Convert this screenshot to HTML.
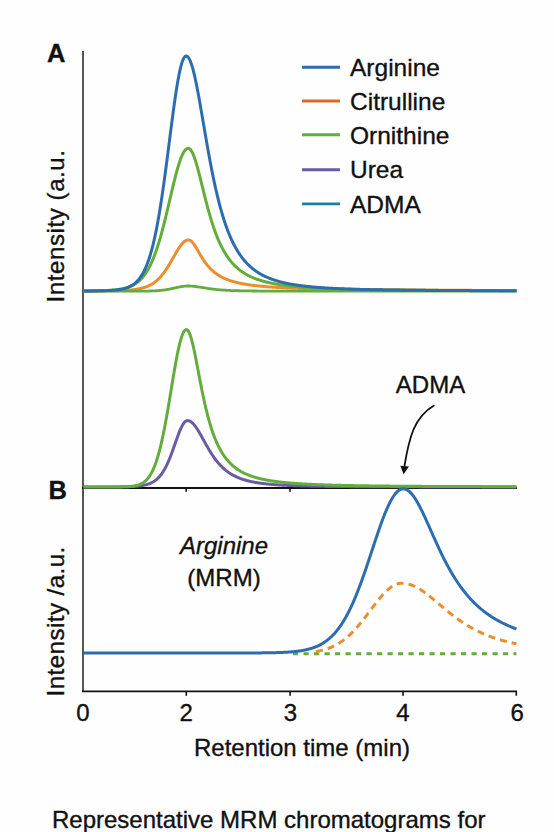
<!DOCTYPE html>
<html><head><meta charset="utf-8"><style>
html,body{margin:0;padding:0;background:#fefefe;}
svg{display:block;}
text{font-family:"Liberation Sans",sans-serif;fill:#111;stroke:#111;stroke-width:0.35px;}
.leg{font-size:24.5px;}
</style></head><body>
<svg width="554" height="832" viewBox="0 0 554 832">
<rect width="554" height="832" fill="#fefefe"/>
<g fill="none" stroke-linejoin="round" stroke-linecap="butt">
<!-- axes -->
<line x1="83" y1="51" x2="83" y2="692" stroke="#555555" stroke-width="2"/>
<line x1="82" y1="488" x2="517" y2="488" stroke="#111111" stroke-width="1.8"/>
<line x1="82" y1="691.3" x2="517" y2="691.3" stroke="#111111" stroke-width="1.8"/>
<path d="M186.2,488 V491.8 M290,488 V491.8" stroke="#111111" stroke-width="1.6"/>
<path d="M186.3,691.3 V695.8 M290.1,691.3 V695.8 M403,691.3 V695.8 M516.3,691.3 V695.8" stroke="#111111" stroke-width="1.6"/>
<!-- panel A -->
<path d="M83.50,290.97 L84.00,290.97 L84.50,290.97 L85.00,290.97 L85.50,290.97 L86.00,290.97 L86.50,290.97 L87.00,290.97 L87.50,290.96 L88.00,290.96 L88.50,290.96 L89.00,290.96 L89.50,290.96 L90.00,290.96 L90.50,290.96 L91.00,290.95 L91.50,290.95 L92.00,290.95 L92.50,290.95 L93.00,290.95 L93.50,290.95 L94.00,290.94 L94.50,290.94 L95.00,290.94 L95.50,290.94 L96.00,290.94 L96.50,290.93 L97.00,290.93 L97.50,290.93 L98.00,290.93 L98.50,290.92 L99.00,290.92 L99.50,290.92 L100.00,290.91 L100.50,290.91 L101.00,290.91 L101.50,290.90 L102.00,290.90 L102.50,290.90 L103.00,290.89 L103.50,290.89 L104.00,290.88 L104.50,290.88 L105.00,290.87 L105.50,290.87 L106.00,290.86 L106.50,290.86 L107.00,290.85 L107.50,290.85 L108.00,290.84 L108.50,290.83 L109.00,290.83 L109.50,290.82 L110.00,290.81 L110.50,290.81 L111.00,290.80 L111.50,290.79 L112.00,290.78 L112.50,290.77 L113.00,290.76 L113.50,290.75 L114.00,290.74 L114.50,290.73 L115.00,290.72 L115.50,290.71 L116.00,290.70 L116.50,290.69 L117.00,290.67 L117.50,290.66 L118.00,290.65 L118.50,290.63 L119.00,290.62 L119.50,290.60 L120.00,290.58 L120.50,290.56 L121.00,290.55 L121.50,290.53 L122.00,290.51 L122.50,290.48 L123.00,290.46 L123.50,290.44 L124.00,290.41 L124.50,290.39 L125.00,290.36 L125.50,290.33 L126.00,290.30 L126.50,290.27 L127.00,290.24 L127.50,290.21 L128.00,290.17 L128.50,290.14 L129.00,290.10 L129.50,290.06 L130.00,290.02 L130.50,289.97 L131.00,289.93 L131.50,289.88 L132.00,289.83 L132.50,289.77 L133.00,289.72 L133.50,289.66 L134.00,289.60 L134.50,289.54 L135.00,289.47 L135.50,289.40 L136.00,289.33 L136.50,289.25 L137.00,289.17 L137.50,289.09 L138.00,289.00 L138.50,288.91 L139.00,288.82 L139.50,288.72 L140.00,288.61 L140.50,288.50 L141.00,288.39 L141.50,288.27 L142.00,288.14 L142.50,288.01 L143.00,287.87 L143.50,287.73 L144.00,287.58 L144.50,287.42 L145.00,287.26 L145.50,287.09 L146.00,286.91 L146.50,286.73 L147.00,286.53 L147.50,286.33 L148.00,286.12 L148.50,285.89 L149.00,285.66 L149.50,285.42 L150.00,285.17 L150.50,284.91 L151.00,284.64 L151.50,284.35 L152.00,284.06 L152.50,283.75 L153.00,283.43 L153.50,283.10 L154.00,282.75 L154.50,282.39 L155.00,282.02 L155.50,281.63 L156.00,281.22 L156.50,280.81 L157.00,280.37 L157.50,279.92 L158.00,279.46 L158.50,278.98 L159.00,278.48 L159.50,277.96 L160.00,277.43 L160.50,276.88 L161.00,276.31 L161.50,275.73 L162.00,275.13 L162.50,274.51 L163.00,273.87 L163.50,273.22 L164.00,272.55 L164.50,271.86 L165.00,271.16 L165.50,270.43 L166.00,269.70 L166.50,268.94 L167.00,268.17 L167.50,267.39 L168.00,266.59 L168.50,265.78 L169.00,264.96 L169.50,264.12 L170.00,263.28 L170.50,262.42 L171.00,261.56 L171.50,260.69 L172.00,259.82 L172.50,258.94 L173.00,258.06 L173.50,257.17 L174.00,256.29 L174.50,255.41 L175.00,254.54 L175.50,253.67 L176.00,252.81 L176.50,251.97 L177.00,251.13 L177.50,250.31 L178.00,249.50 L178.50,248.72 L179.00,247.96 L179.50,247.21 L180.00,246.50 L180.50,245.81 L181.00,245.15 L181.50,244.53 L182.00,243.93 L182.50,243.38 L183.00,242.86 L183.50,242.38 L184.00,241.94 L184.50,241.54 L185.00,241.18 L185.50,240.87 L186.00,240.61 L186.50,240.39 L187.00,240.22 L187.50,240.10 L188.00,240.02 L188.50,240.00 L189.00,240.04 L189.50,240.16 L190.00,240.35 L190.50,240.63 L191.00,240.97 L191.50,241.38 L192.00,241.86 L192.50,242.40 L193.00,243.00 L193.50,243.65 L194.00,244.34 L194.50,245.07 L195.00,245.83 L195.50,246.63 L196.00,247.45 L196.50,248.28 L197.00,249.13 L197.50,249.99 L198.00,250.86 L198.50,251.73 L199.00,252.59 L199.50,253.46 L200.00,254.31 L200.50,255.16 L201.00,256.00 L201.50,256.82 L202.00,257.63 L202.50,258.43 L203.00,259.21 L203.50,259.97 L204.00,260.72 L204.50,261.44 L205.00,262.15 L205.50,262.84 L206.00,263.52 L206.50,264.17 L207.00,264.81 L207.50,265.43 L208.00,266.03 L208.50,266.61 L209.00,267.18 L209.50,267.73 L210.00,268.26 L210.50,268.78 L211.00,269.28 L211.50,269.77 L212.00,270.24 L212.50,270.70 L213.00,271.14 L213.50,271.58 L214.00,271.99 L214.50,272.40 L215.00,272.79 L215.50,273.17 L216.00,273.54 L216.50,273.90 L217.00,274.25 L217.50,274.59 L218.00,274.92 L218.50,275.23 L219.00,275.54 L219.50,275.84 L220.00,276.13 L220.50,276.42 L221.00,276.69 L221.50,276.96 L222.00,277.22 L222.50,277.47 L223.00,277.72 L223.50,277.96 L224.00,278.19 L224.50,278.42 L225.00,278.64 L225.50,278.85 L226.00,279.06 L226.50,279.26 L227.00,279.46 L227.50,279.65 L228.00,279.84 L228.50,280.02 L229.00,280.20 L229.50,280.38 L230.00,280.55 L230.50,280.71 L231.00,280.87 L231.50,281.03 L232.00,281.18 L232.50,281.33 L233.00,281.48 L233.50,281.62 L234.00,281.76 L234.50,281.90 L235.00,282.03 L235.50,282.16 L236.00,282.29 L236.50,282.41 L237.00,282.53 L237.50,282.65 L238.00,282.77 L238.50,282.88 L239.00,282.99 L239.50,283.10 L240.00,283.21 L240.50,283.31 L241.00,283.41 L241.50,283.51 L242.00,283.61 L242.50,283.70 L243.00,283.80 L243.50,283.89 L244.00,283.98 L244.50,284.07 L245.00,284.15 L245.50,284.24 L246.00,284.32 L246.50,284.40 L247.00,284.48 L247.50,284.56 L248.00,284.64 L248.50,284.71 L249.00,284.79 L249.50,284.86 L250.00,284.93 L250.50,285.00 L251.00,285.07 L251.50,285.13 L252.00,285.20 L252.50,285.26 L253.00,285.33 L253.50,285.39 L254.00,285.45 L254.50,285.51 L255.00,285.57 L255.50,285.63 L256.00,285.69 L256.50,285.74 L257.00,285.80 L257.50,285.85 L258.00,285.91 L258.50,285.96 L259.00,286.01 L259.50,286.06 L260.00,286.11 L260.50,286.16 L261.00,286.21 L261.50,286.26 L262.00,286.30 L262.50,286.35 L263.00,286.39 L263.50,286.44 L264.00,286.48 L264.50,286.53 L265.00,286.57 L265.50,286.61 L266.00,286.65 L266.50,286.69 L267.00,286.73 L267.50,286.77 L268.00,286.81 L268.50,286.85 L269.00,286.89 L269.50,286.92 L270.00,286.96 L270.50,286.99 L271.00,287.03 L271.50,287.07 L272.00,287.10 L272.50,287.13 L273.00,287.17 L273.50,287.20 L274.00,287.23 L274.50,287.26 L275.00,287.30 L275.50,287.33 L276.00,287.36 L276.50,287.39 L277.00,287.42 L277.50,287.45 L278.00,287.48 L278.50,287.51 L279.00,287.53 L279.50,287.56 L280.00,287.59 L280.50,287.62 L281.00,287.64 L281.50,287.67 L282.00,287.70 L282.50,287.72 L283.00,287.75 L283.50,287.77 L284.00,287.80 L284.50,287.82 L285.00,287.85 L285.50,287.87 L286.00,287.90 L286.50,287.92 L287.00,287.94 L287.50,287.96 L288.00,287.99 L288.50,288.01 L289.00,288.03 L289.50,288.05 L290.00,288.07 L290.50,288.10 L291.00,288.12 L291.50,288.14 L292.00,288.16 L292.50,288.18 L293.00,288.20 L293.50,288.22 L294.00,288.24 L294.50,288.26 L295.00,288.28 L295.50,288.29 L296.00,288.31 L296.50,288.33 L297.00,288.35 L297.50,288.37 L298.00,288.39 L298.50,288.40 L299.00,288.42 L299.50,288.44 L300.00,288.46 L300.50,288.47 L301.00,288.49 L301.50,288.51 L302.00,288.52 L302.50,288.54 L303.00,288.55 L303.50,288.57 L304.00,288.59 L304.50,288.60 L305.00,288.62 L305.50,288.63 L306.00,288.65 L306.50,288.66 L307.00,288.68 L307.50,288.69 L308.00,288.70 L308.50,288.72 L309.00,288.73 L309.50,288.75 L310.00,288.76 L310.50,288.77 L311.00,288.79 L311.50,288.80 L312.00,288.81 L312.50,288.83 L313.00,288.84 L313.50,288.85 L314.00,288.87 L314.50,288.88 L315.00,288.89 L315.50,288.90 L316.00,288.92 L316.50,288.93 L317.00,288.94 L317.50,288.95 L318.00,288.96 L318.50,288.98 L319.00,288.99 L319.50,289.00 L320.00,289.01 L320.50,289.02 L321.00,289.03 L321.50,289.04 L322.00,289.05 L322.50,289.07 L323.00,289.08 L323.50,289.09 L324.00,289.10 L324.50,289.11 L325.00,289.12 L325.50,289.13 L326.00,289.14 L326.50,289.15 L327.00,289.16 L327.50,289.17 L328.00,289.18 L328.50,289.19 L329.00,289.20 L329.50,289.21 L330.00,289.22 L330.50,289.23 L331.00,289.24 L331.50,289.25 L332.00,289.25 L332.50,289.26 L333.00,289.27 L333.50,289.28 L334.00,289.29 L334.50,289.30 L335.00,289.31 L335.50,289.32 L336.00,289.32 L336.50,289.33 L337.00,289.34 L337.50,289.35 L338.00,289.36 L338.50,289.37 L339.00,289.37 L339.50,289.38 L340.00,289.39 L340.50,289.40 L341.00,289.41 L341.50,289.41 L342.00,289.42 L342.50,289.43 L343.00,289.44 L343.50,289.44 L344.00,289.45 L344.50,289.46 L345.00,289.47 L345.50,289.47 L346.00,289.48 L346.50,289.49 L347.00,289.50 L347.50,289.50 L348.00,289.51 L348.50,289.52 L349.00,289.52 L349.50,289.53 L350.00,289.54 L350.50,289.54 L351.00,289.55 L351.50,289.56 L352.00,289.56 L352.50,289.57 L353.00,289.58 L353.50,289.58 L354.00,289.59 L354.50,289.60 L355.00,289.60 L355.50,289.61 L356.00,289.62 L356.50,289.62 L357.00,289.63 L357.50,289.63 L358.00,289.64 L358.50,289.65 L359.00,289.65 L359.50,289.66 L360.00,289.66 L360.50,289.67 L361.00,289.68 L361.50,289.68 L362.00,289.69 L362.50,289.69 L363.00,289.70 L363.50,289.70 L364.00,289.71 L364.50,289.72 L365.00,289.72 L365.50,289.73 L366.00,289.73 L366.50,289.74 L367.00,289.74 L367.50,289.75 L368.00,289.75 L368.50,289.76 L369.00,289.76 L369.50,289.77 L370.00,289.77 L370.50,289.78 L371.00,289.78 L371.50,289.79 L372.00,289.79 L372.50,289.80 L373.00,289.80 L373.50,289.81 L374.00,289.81 L374.50,289.82 L375.00,289.82 L375.50,289.83 L376.00,289.83 L376.50,289.84 L377.00,289.84 L377.50,289.85 L378.00,289.85 L378.50,289.85 L379.00,289.86 L379.50,289.86 L380.00,289.87 L380.50,289.87 L381.00,289.88 L381.50,289.88 L382.00,289.89 L382.50,289.89 L383.00,289.89 L383.50,289.90 L384.00,289.90 L384.50,289.91 L385.00,289.91 L385.50,289.92 L386.00,289.92 L386.50,289.92 L387.00,289.93 L387.50,289.93 L388.00,289.94 L388.50,289.94 L389.00,289.94 L389.50,289.95 L390.00,289.95 L390.50,289.96 L391.00,289.96 L391.50,289.96 L392.00,289.97 L392.50,289.97 L393.00,289.97 L393.50,289.98 L394.00,289.98 L394.50,289.99 L395.00,289.99 L395.50,289.99 L396.00,290.00 L396.50,290.00 L397.00,290.00 L397.50,290.01 L398.00,290.01 L398.50,290.02 L399.00,290.02 L399.50,290.02 L400.00,290.03 L400.50,290.03 L401.00,290.03 L401.50,290.04 L402.00,290.04 L402.50,290.04 L403.00,290.05 L403.50,290.05 L404.00,290.05 L404.50,290.06 L405.00,290.06 L405.50,290.06 L406.00,290.07 L406.50,290.07 L407.00,290.07 L407.50,290.08 L408.00,290.08 L408.50,290.08 L409.00,290.09 L409.50,290.09 L410.00,290.09 L410.50,290.09 L411.00,290.10 L411.50,290.10 L412.00,290.10 L412.50,290.11 L413.00,290.11 L413.50,290.11 L414.00,290.12 L414.50,290.12 L415.00,290.12 L415.50,290.12 L416.00,290.13 L416.50,290.13 L417.00,290.13 L417.50,290.14 L418.00,290.14 L418.50,290.14 L419.00,290.14 L419.50,290.15 L420.00,290.15 L420.50,290.15 L421.00,290.16 L421.50,290.16 L422.00,290.16 L422.50,290.16 L423.00,290.17 L423.50,290.17 L424.00,290.17 L424.50,290.17 L425.00,290.18 L425.50,290.18 L426.00,290.18 L426.50,290.18 L427.00,290.19 L427.50,290.19 L428.00,290.19 L428.50,290.19 L429.00,290.20 L429.50,290.20 L430.00,290.20 L430.50,290.20 L431.00,290.21 L431.50,290.21 L432.00,290.21 L432.50,290.21 L433.00,290.22 L433.50,290.22 L434.00,290.22 L434.50,290.22 L435.00,290.23 L435.50,290.23 L436.00,290.23 L436.50,290.23 L437.00,290.24 L437.50,290.24 L438.00,290.24 L438.50,290.24 L439.00,290.25 L439.50,290.25 L440.00,290.25 L440.50,290.25 L441.00,290.25 L441.50,290.26 L442.00,290.26 L442.50,290.26 L443.00,290.26 L443.50,290.27 L444.00,290.27 L444.50,290.27 L445.00,290.27 L445.50,290.27 L446.00,290.28 L446.50,290.28 L447.00,290.28 L447.50,290.28 L448.00,290.28 L448.50,290.29 L449.00,290.29 L449.50,290.29 L450.00,290.29 L450.50,290.29 L451.00,290.30 L451.50,290.30 L452.00,290.30 L452.50,290.30 L453.00,290.30 L453.50,290.31 L454.00,290.31 L454.50,290.31 L455.00,290.31 L455.50,290.31 L456.00,290.32 L456.50,290.32 L457.00,290.32 L457.50,290.32 L458.00,290.32 L458.50,290.33 L459.00,290.33 L459.50,290.33 L460.00,290.33 L460.50,290.33 L461.00,290.34 L461.50,290.34 L462.00,290.34 L462.50,290.34 L463.00,290.34 L463.50,290.34 L464.00,290.35 L464.50,290.35 L465.00,290.35 L465.50,290.35 L466.00,290.35 L466.50,290.36 L467.00,290.36 L467.50,290.36 L468.00,290.36 L468.50,290.36 L469.00,290.36 L469.50,290.37 L470.00,290.37 L470.50,290.37 L471.00,290.37 L471.50,290.37 L472.00,290.37 L472.50,290.38 L473.00,290.38 L473.50,290.38 L474.00,290.38 L474.50,290.38 L475.00,290.38 L475.50,290.39 L476.00,290.39 L476.50,290.39 L477.00,290.39 L477.50,290.39 L478.00,290.39 L478.50,290.40 L479.00,290.40 L479.50,290.40 L480.00,290.40 L480.50,290.40 L481.00,290.40 L481.50,290.40 L482.00,290.41 L482.50,290.41 L483.00,290.41 L483.50,290.41 L484.00,290.41 L484.50,290.41 L485.00,290.42 L485.50,290.42 L486.00,290.42 L486.50,290.42 L487.00,290.42 L487.50,290.42 L488.00,290.42 L488.50,290.43 L489.00,290.43 L489.50,290.43 L490.00,290.43 L490.50,290.43 L491.00,290.43 L491.50,290.43 L492.00,290.44 L492.50,290.44 L493.00,290.44 L493.50,290.44 L494.00,290.44 L494.50,290.44 L495.00,290.44 L495.50,290.44 L496.00,290.45 L496.50,290.45 L497.00,290.45 L497.50,290.45 L498.00,290.45 L498.50,290.45 L499.00,290.45 L499.50,290.46 L500.00,290.46 L500.50,290.46 L501.00,290.46 L501.50,290.46 L502.00,290.46 L502.50,290.46 L503.00,290.46 L503.50,290.47 L504.00,290.47 L504.50,290.47 L505.00,290.47 L505.50,290.47 L506.00,290.47 L506.50,290.47 L507.00,290.48 L507.50,290.48 L508.00,290.48 L508.50,290.48 L509.00,290.48 L509.50,290.48 L510.00,290.48 L510.50,290.48 L511.00,290.48 L511.50,290.49 L512.00,290.49 L512.50,290.49 L513.00,290.49 L513.50,290.49 L514.00,290.49 L514.50,290.49 L515.00,290.49 L515.50,290.50 L516.00,290.50 L516.50,290.50" stroke="#ea8f31" stroke-width="3"/>
<path d="M83.50,291.20 L84.00,291.20 L84.50,291.20 L85.00,291.20 L85.50,291.20 L86.00,291.20 L86.50,291.20 L87.00,291.20 L87.50,291.20 L88.00,291.20 L88.50,291.20 L89.00,291.20 L89.50,291.20 L90.00,291.20 L90.50,291.20 L91.00,291.20 L91.50,291.20 L92.00,291.20 L92.50,291.20 L93.00,291.20 L93.50,291.20 L94.00,291.20 L94.50,291.20 L95.00,291.20 L95.50,291.20 L96.00,291.20 L96.50,291.20 L97.00,291.20 L97.50,291.20 L98.00,291.20 L98.50,291.20 L99.00,291.20 L99.50,291.20 L100.00,291.20 L100.50,291.20 L101.00,291.20 L101.50,291.20 L102.00,291.20 L102.50,291.20 L103.00,291.20 L103.50,291.20 L104.00,291.20 L104.50,291.20 L105.00,291.20 L105.50,291.20 L106.00,291.20 L106.50,291.20 L107.00,291.20 L107.50,291.20 L108.00,291.20 L108.50,291.20 L109.00,291.20 L109.50,291.20 L110.00,291.20 L110.50,291.20 L111.00,291.20 L111.50,291.20 L112.00,291.20 L112.50,291.20 L113.00,291.20 L113.50,291.20 L114.00,291.20 L114.50,291.20 L115.00,291.20 L115.50,291.20 L116.00,291.20 L116.50,291.20 L117.00,291.20 L117.50,291.20 L118.00,291.20 L118.50,291.20 L119.00,291.20 L119.50,291.20 L120.00,291.20 L120.50,291.20 L121.00,291.20 L121.50,291.20 L122.00,291.20 L122.50,291.20 L123.00,291.20 L123.50,291.20 L124.00,291.20 L124.50,291.20 L125.00,291.20 L125.50,291.19 L126.00,291.19 L126.50,291.19 L127.00,291.19 L127.50,291.19 L128.00,291.19 L128.50,291.19 L129.00,291.19 L129.50,291.19 L130.00,291.19 L130.50,291.19 L131.00,291.19 L131.50,291.19 L132.00,291.19 L132.50,291.19 L133.00,291.18 L133.50,291.18 L134.00,291.18 L134.50,291.18 L135.00,291.18 L135.50,291.18 L136.00,291.18 L136.50,291.17 L137.00,291.17 L137.50,291.17 L138.00,291.17 L138.50,291.16 L139.00,291.16 L139.50,291.16 L140.00,291.16 L140.50,291.15 L141.00,291.15 L141.50,291.14 L142.00,291.14 L142.50,291.14 L143.00,291.13 L143.50,291.13 L144.00,291.12 L144.50,291.11 L145.00,291.11 L145.50,291.10 L146.00,291.09 L146.50,291.08 L147.00,291.08 L147.50,291.07 L148.00,291.06 L148.50,291.05 L149.00,291.03 L149.50,291.02 L150.00,291.01 L150.50,290.99 L151.00,290.98 L151.50,290.96 L152.00,290.95 L152.50,290.93 L153.00,290.91 L153.50,290.89 L154.00,290.86 L154.50,290.84 L155.00,290.82 L155.50,290.79 L156.00,290.76 L156.50,290.73 L157.00,290.70 L157.50,290.67 L158.00,290.63 L158.50,290.59 L159.00,290.55 L159.50,290.51 L160.00,290.47 L160.50,290.42 L161.00,290.37 L161.50,290.32 L162.00,290.26 L162.50,290.21 L163.00,290.15 L163.50,290.08 L164.00,290.02 L164.50,289.95 L165.00,289.88 L165.50,289.81 L166.00,289.73 L166.50,289.65 L167.00,289.57 L167.50,289.48 L168.00,289.40 L168.50,289.30 L169.00,289.21 L169.50,289.11 L170.00,289.02 L170.50,288.92 L171.00,288.81 L171.50,288.71 L172.00,288.60 L172.50,288.49 L173.00,288.38 L173.50,288.27 L174.00,288.16 L174.50,288.04 L175.00,287.93 L175.50,287.82 L176.00,287.70 L176.50,287.59 L177.00,287.48 L177.50,287.37 L178.00,287.26 L178.50,287.16 L179.00,287.05 L179.50,286.95 L180.00,286.85 L180.50,286.76 L181.00,286.67 L181.50,286.58 L182.00,286.50 L182.50,286.42 L183.00,286.35 L183.50,286.29 L184.00,286.23 L184.50,286.18 L185.00,286.13 L185.50,286.09 L186.00,286.06 L186.50,286.03 L187.00,286.01 L187.50,286.00 L188.00,286.00 L188.50,286.00 L189.00,286.01 L189.50,286.02 L190.00,286.04 L190.50,286.06 L191.00,286.09 L191.50,286.12 L192.00,286.15 L192.50,286.19 L193.00,286.24 L193.50,286.28 L194.00,286.33 L194.50,286.39 L195.00,286.45 L195.50,286.51 L196.00,286.57 L196.50,286.64 L197.00,286.71 L197.50,286.78 L198.00,286.85 L198.50,286.93 L199.00,287.01 L199.50,287.09 L200.00,287.17 L200.50,287.25 L201.00,287.33 L201.50,287.41 L202.00,287.49 L202.50,287.57 L203.00,287.66 L203.50,287.74 L204.00,287.82 L204.50,287.90 L205.00,287.98 L205.50,288.06 L206.00,288.14 L206.50,288.22 L207.00,288.30 L207.50,288.38 L208.00,288.45 L208.50,288.53 L209.00,288.60 L209.50,288.67 L210.00,288.74 L210.50,288.81 L211.00,288.88 L211.50,288.95 L212.00,289.01 L212.50,289.07 L213.00,289.14 L213.50,289.20 L214.00,289.25 L214.50,289.31 L215.00,289.37 L215.50,289.42 L216.00,289.48 L216.50,289.53 L217.00,289.58 L217.50,289.63 L218.00,289.67 L218.50,289.72 L219.00,289.76 L219.50,289.81 L220.00,289.85 L220.50,289.89 L221.00,289.93 L221.50,289.97 L222.00,290.00 L222.50,290.04 L223.00,290.08 L223.50,290.11 L224.00,290.14 L224.50,290.17 L225.00,290.20 L225.50,290.23 L226.00,290.26 L226.50,290.29 L227.00,290.32 L227.50,290.34 L228.00,290.37 L228.50,290.39 L229.00,290.42 L229.50,290.44 L230.00,290.46 L230.50,290.48 L231.00,290.51 L231.50,290.53 L232.00,290.55 L232.50,290.56 L233.00,290.58 L233.50,290.60 L234.00,290.62 L234.50,290.63 L235.00,290.65 L235.50,290.67 L236.00,290.68 L236.50,290.70 L237.00,290.71 L237.50,290.72 L238.00,290.74 L238.50,290.75 L239.00,290.76 L239.50,290.77 L240.00,290.78 L240.50,290.80 L241.00,290.81 L241.50,290.82 L242.00,290.83 L242.50,290.84 L243.00,290.85 L243.50,290.86 L244.00,290.87 L244.50,290.87 L245.00,290.88 L245.50,290.89 L246.00,290.90 L246.50,290.91 L247.00,290.91 L247.50,290.92 L248.00,290.93 L248.50,290.94 L249.00,290.94 L249.50,290.95 L250.00,290.96 L250.50,290.96 L251.00,290.97 L251.50,290.97 L252.00,290.98 L252.50,290.98 L253.00,290.99 L253.50,290.99 L254.00,291.00 L254.50,291.00 L255.00,291.01 L255.50,291.01 L256.00,291.02 L256.50,291.02 L257.00,291.03 L257.50,291.03 L258.00,291.03 L258.50,291.04 L259.00,291.04 L259.50,291.05 L260.00,291.05 L260.50,291.05 L261.00,291.06 L261.50,291.06 L262.00,291.06 L262.50,291.07 L263.00,291.07 L263.50,291.07 L264.00,291.07 L264.50,291.08 L265.00,291.08 L265.50,291.08 L266.00,291.08 L266.50,291.09 L267.00,291.09 L267.50,291.09 L268.00,291.09 L268.50,291.10 L269.00,291.10 L269.50,291.10 L270.00,291.10 L270.50,291.10 L271.00,291.11 L271.50,291.11 L272.00,291.11 L272.50,291.11 L273.00,291.11 L273.50,291.12 L274.00,291.12 L274.50,291.12 L275.00,291.12 L275.50,291.12 L276.00,291.12 L276.50,291.13 L277.00,291.13 L277.50,291.13 L278.00,291.13 L278.50,291.13 L279.00,291.13 L279.50,291.13 L280.00,291.14 L280.50,291.14 L281.00,291.14 L281.50,291.14 L282.00,291.14 L282.50,291.14 L283.00,291.14 L283.50,291.14 L284.00,291.14 L284.50,291.15 L285.00,291.15 L285.50,291.15 L286.00,291.15 L286.50,291.15 L287.00,291.15 L287.50,291.15 L288.00,291.15 L288.50,291.15 L289.00,291.15 L289.50,291.15 L290.00,291.16 L290.50,291.16 L291.00,291.16 L291.50,291.16 L292.00,291.16 L292.50,291.16 L293.00,291.16 L293.50,291.16 L294.00,291.16 L294.50,291.16 L295.00,291.16 L295.50,291.16 L296.00,291.16 L296.50,291.16 L297.00,291.16 L297.50,291.17 L298.00,291.17 L298.50,291.17 L299.00,291.17 L299.50,291.17 L300.00,291.17 L300.50,291.17 L301.00,291.17 L301.50,291.17 L302.00,291.17 L302.50,291.17 L303.00,291.17 L303.50,291.17 L304.00,291.17 L304.50,291.17 L305.00,291.17 L305.50,291.17 L306.00,291.17 L306.50,291.17 L307.00,291.17 L307.50,291.17 L308.00,291.18 L308.50,291.18 L309.00,291.18 L309.50,291.18 L310.00,291.18 L310.50,291.18 L311.00,291.18 L311.50,291.18 L312.00,291.18 L312.50,291.18 L313.00,291.18 L313.50,291.18 L314.00,291.18 L314.50,291.18 L315.00,291.18 L315.50,291.18 L316.00,291.18 L316.50,291.18 L317.00,291.18 L317.50,291.18 L318.00,291.18 L318.50,291.18 L319.00,291.18 L319.50,291.18 L320.00,291.18 L320.50,291.18 L321.00,291.18 L321.50,291.18 L322.00,291.18 L322.50,291.18 L323.00,291.18 L323.50,291.18 L324.00,291.18 L324.50,291.18 L325.00,291.19 L325.50,291.19 L326.00,291.19 L326.50,291.19 L327.00,291.19 L327.50,291.19 L328.00,291.19 L328.50,291.19 L329.00,291.19 L329.50,291.19 L330.00,291.19 L330.50,291.19 L331.00,291.19 L331.50,291.19 L332.00,291.19 L332.50,291.19 L333.00,291.19 L333.50,291.19 L334.00,291.19 L334.50,291.19 L335.00,291.19 L335.50,291.19 L336.00,291.19 L336.50,291.19 L337.00,291.19 L337.50,291.19 L338.00,291.19 L338.50,291.19 L339.00,291.19 L339.50,291.19 L340.00,291.19 L340.50,291.19 L341.00,291.19 L341.50,291.19 L342.00,291.19 L342.50,291.19 L343.00,291.19 L343.50,291.19 L344.00,291.19 L344.50,291.19 L345.00,291.19 L345.50,291.19 L346.00,291.19 L346.50,291.19 L347.00,291.19 L347.50,291.19 L348.00,291.19 L348.50,291.19 L349.00,291.19 L349.50,291.19 L350.00,291.19 L350.50,291.19 L351.00,291.19 L351.50,291.19 L352.00,291.19 L352.50,291.19 L353.00,291.19 L353.50,291.19 L354.00,291.19 L354.50,291.19 L355.00,291.19 L355.50,291.19 L356.00,291.19 L356.50,291.19 L357.00,291.19 L357.50,291.19 L358.00,291.19 L358.50,291.19 L359.00,291.19 L359.50,291.19 L360.00,291.19 L360.50,291.19 L361.00,291.19 L361.50,291.19 L362.00,291.19 L362.50,291.19 L363.00,291.19 L363.50,291.19 L364.00,291.19 L364.50,291.19 L365.00,291.19 L365.50,291.19 L366.00,291.19 L366.50,291.19 L367.00,291.19 L367.50,291.19 L368.00,291.19 L368.50,291.19 L369.00,291.19 L369.50,291.19 L370.00,291.19 L370.50,291.20 L371.00,291.20 L371.50,291.20 L372.00,291.20 L372.50,291.20 L373.00,291.20 L373.50,291.20 L374.00,291.20 L374.50,291.20 L375.00,291.20 L375.50,291.20 L376.00,291.20 L376.50,291.20 L377.00,291.20 L377.50,291.20 L378.00,291.20 L378.50,291.20 L379.00,291.20 L379.50,291.20 L380.00,291.20 L380.50,291.20 L381.00,291.20 L381.50,291.20 L382.00,291.20 L382.50,291.20 L383.00,291.20 L383.50,291.20 L384.00,291.20 L384.50,291.20 L385.00,291.20 L385.50,291.20 L386.00,291.20 L386.50,291.20 L387.00,291.20 L387.50,291.20 L388.00,291.20 L388.50,291.20 L389.00,291.20 L389.50,291.20 L390.00,291.20 L390.50,291.20 L391.00,291.20 L391.50,291.20 L392.00,291.20 L392.50,291.20 L393.00,291.20 L393.50,291.20 L394.00,291.20 L394.50,291.20 L395.00,291.20 L395.50,291.20 L396.00,291.20 L396.50,291.20 L397.00,291.20 L397.50,291.20 L398.00,291.20 L398.50,291.20 L399.00,291.20 L399.50,291.20 L400.00,291.20 L400.50,291.20 L401.00,291.20 L401.50,291.20 L402.00,291.20 L402.50,291.20 L403.00,291.20 L403.50,291.20 L404.00,291.20 L404.50,291.20 L405.00,291.20 L405.50,291.20 L406.00,291.20 L406.50,291.20 L407.00,291.20 L407.50,291.20 L408.00,291.20 L408.50,291.20 L409.00,291.20 L409.50,291.20 L410.00,291.20 L410.50,291.20 L411.00,291.20 L411.50,291.20 L412.00,291.20 L412.50,291.20 L413.00,291.20 L413.50,291.20 L414.00,291.20 L414.50,291.20 L415.00,291.20 L415.50,291.20 L416.00,291.20 L416.50,291.20 L417.00,291.20 L417.50,291.20 L418.00,291.20 L418.50,291.20 L419.00,291.20 L419.50,291.20 L420.00,291.20 L420.50,291.20 L421.00,291.20 L421.50,291.20 L422.00,291.20 L422.50,291.20 L423.00,291.20 L423.50,291.20 L424.00,291.20 L424.50,291.20 L425.00,291.20 L425.50,291.20 L426.00,291.20 L426.50,291.20 L427.00,291.20 L427.50,291.20 L428.00,291.20 L428.50,291.20 L429.00,291.20 L429.50,291.20 L430.00,291.20 L430.50,291.20 L431.00,291.20 L431.50,291.20 L432.00,291.20 L432.50,291.20 L433.00,291.20 L433.50,291.20 L434.00,291.20 L434.50,291.20 L435.00,291.20 L435.50,291.20 L436.00,291.20 L436.50,291.20 L437.00,291.20 L437.50,291.20 L438.00,291.20 L438.50,291.20 L439.00,291.20 L439.50,291.20 L440.00,291.20 L440.50,291.20 L441.00,291.20 L441.50,291.20 L442.00,291.20 L442.50,291.20 L443.00,291.20 L443.50,291.20 L444.00,291.20 L444.50,291.20 L445.00,291.20 L445.50,291.20 L446.00,291.20 L446.50,291.20 L447.00,291.20 L447.50,291.20 L448.00,291.20 L448.50,291.20 L449.00,291.20 L449.50,291.20 L450.00,291.20 L450.50,291.20 L451.00,291.20 L451.50,291.20 L452.00,291.20 L452.50,291.20 L453.00,291.20 L453.50,291.20 L454.00,291.20 L454.50,291.20 L455.00,291.20 L455.50,291.20 L456.00,291.20 L456.50,291.20 L457.00,291.20 L457.50,291.20 L458.00,291.20 L458.50,291.20 L459.00,291.20 L459.50,291.20 L460.00,291.20 L460.50,291.20 L461.00,291.20 L461.50,291.20 L462.00,291.20 L462.50,291.20 L463.00,291.20 L463.50,291.20 L464.00,291.20 L464.50,291.20 L465.00,291.20 L465.50,291.20 L466.00,291.20 L466.50,291.20 L467.00,291.20 L467.50,291.20 L468.00,291.20 L468.50,291.20 L469.00,291.20 L469.50,291.20 L470.00,291.20 L470.50,291.20 L471.00,291.20 L471.50,291.20 L472.00,291.20 L472.50,291.20 L473.00,291.20 L473.50,291.20 L474.00,291.20 L474.50,291.20 L475.00,291.20 L475.50,291.20 L476.00,291.20 L476.50,291.20 L477.00,291.20 L477.50,291.20 L478.00,291.20 L478.50,291.20 L479.00,291.20 L479.50,291.20 L480.00,291.20 L480.50,291.20 L481.00,291.20 L481.50,291.20 L482.00,291.20 L482.50,291.20 L483.00,291.20 L483.50,291.20 L484.00,291.20 L484.50,291.20 L485.00,291.20 L485.50,291.20 L486.00,291.20 L486.50,291.20 L487.00,291.20 L487.50,291.20 L488.00,291.20 L488.50,291.20 L489.00,291.20 L489.50,291.20 L490.00,291.20 L490.50,291.20 L491.00,291.20 L491.50,291.20 L492.00,291.20 L492.50,291.20 L493.00,291.20 L493.50,291.20 L494.00,291.20 L494.50,291.20 L495.00,291.20 L495.50,291.20 L496.00,291.20 L496.50,291.20 L497.00,291.20 L497.50,291.20 L498.00,291.20 L498.50,291.20 L499.00,291.20 L499.50,291.20 L500.00,291.20 L500.50,291.20 L501.00,291.20 L501.50,291.20 L502.00,291.20 L502.50,291.20 L503.00,291.20 L503.50,291.20 L504.00,291.20 L504.50,291.20 L505.00,291.20 L505.50,291.20 L506.00,291.20 L506.50,291.20 L507.00,291.20 L507.50,291.20 L508.00,291.20 L508.50,291.20 L509.00,291.20 L509.50,291.20 L510.00,291.20 L510.50,291.20 L511.00,291.20 L511.50,291.20 L512.00,291.20 L512.50,291.20 L513.00,291.20 L513.50,291.20 L514.00,291.20 L514.50,291.20 L515.00,291.20 L515.50,291.20 L516.00,291.20 L516.50,291.20" stroke="#63ad3b" stroke-width="2.8"/>
<path d="M83.50,290.93 L84.00,290.93 L84.50,290.93 L85.00,290.92 L85.50,290.92 L86.00,290.92 L86.50,290.91 L87.00,290.91 L87.50,290.91 L88.00,290.90 L88.50,290.90 L89.00,290.89 L89.50,290.89 L90.00,290.88 L90.50,290.88 L91.00,290.87 L91.50,290.87 L92.00,290.86 L92.50,290.85 L93.00,290.85 L93.50,290.84 L94.00,290.83 L94.50,290.83 L95.00,290.82 L95.50,290.81 L96.00,290.80 L96.50,290.79 L97.00,290.78 L97.50,290.77 L98.00,290.76 L98.50,290.75 L99.00,290.74 L99.50,290.73 L100.00,290.72 L100.50,290.70 L101.00,290.69 L101.50,290.68 L102.00,290.66 L102.50,290.65 L103.00,290.63 L103.50,290.61 L104.00,290.60 L104.50,290.58 L105.00,290.56 L105.50,290.54 L106.00,290.51 L106.50,290.49 L107.00,290.47 L107.50,290.44 L108.00,290.42 L108.50,290.39 L109.00,290.36 L109.50,290.33 L110.00,290.30 L110.50,290.27 L111.00,290.23 L111.50,290.20 L112.00,290.16 L112.50,290.12 L113.00,290.08 L113.50,290.03 L114.00,289.99 L114.50,289.94 L115.00,289.89 L115.50,289.84 L116.00,289.78 L116.50,289.73 L117.00,289.67 L117.50,289.60 L118.00,289.54 L118.50,289.47 L119.00,289.39 L119.50,289.32 L120.00,289.24 L120.50,289.15 L121.00,289.07 L121.50,288.98 L122.00,288.88 L122.50,288.78 L123.00,288.67 L123.50,288.56 L124.00,288.45 L124.50,288.33 L125.00,288.20 L125.50,288.07 L126.00,287.93 L126.50,287.78 L127.00,287.63 L127.50,287.47 L128.00,287.31 L128.50,287.13 L129.00,286.95 L129.50,286.76 L130.00,286.56 L130.50,286.36 L131.00,286.14 L131.50,285.91 L132.00,285.67 L132.50,285.43 L133.00,285.17 L133.50,284.90 L134.00,284.61 L134.50,284.32 L135.00,284.01 L135.50,283.69 L136.00,283.35 L136.50,283.00 L137.00,282.64 L137.50,282.26 L138.00,281.86 L138.50,281.45 L139.00,281.01 L139.50,280.57 L140.00,280.10 L140.50,279.61 L141.00,279.10 L141.50,278.58 L142.00,278.03 L142.50,277.46 L143.00,276.86 L143.50,276.25 L144.00,275.61 L144.50,274.94 L145.00,274.25 L145.50,273.53 L146.00,272.79 L146.50,272.02 L147.00,271.22 L147.50,270.39 L148.00,269.53 L148.50,268.64 L149.00,267.72 L149.50,266.77 L150.00,265.79 L150.50,264.77 L151.00,263.72 L151.50,262.64 L152.00,261.52 L152.50,260.36 L153.00,259.17 L153.50,257.95 L154.00,256.69 L154.50,255.39 L155.00,254.06 L155.50,252.68 L156.00,251.28 L156.50,249.83 L157.00,248.35 L157.50,246.82 L158.00,245.27 L158.50,243.67 L159.00,242.04 L159.50,240.37 L160.00,238.67 L160.50,236.93 L161.00,235.16 L161.50,233.35 L162.00,231.51 L162.50,229.64 L163.00,227.74 L163.50,225.81 L164.00,223.85 L164.50,221.87 L165.00,219.86 L165.50,217.83 L166.00,215.77 L166.50,213.70 L167.00,211.61 L167.50,209.51 L168.00,207.39 L168.50,205.27 L169.00,203.13 L169.50,200.99 L170.00,198.85 L170.50,196.72 L171.00,194.58 L171.50,192.45 L172.00,190.34 L172.50,188.24 L173.00,186.15 L173.50,184.09 L174.00,182.05 L174.50,180.03 L175.00,178.05 L175.50,176.10 L176.00,174.20 L176.50,172.33 L177.00,170.51 L177.50,168.74 L178.00,167.02 L178.50,165.36 L179.00,163.75 L179.50,162.21 L180.00,160.74 L180.50,159.34 L181.00,158.00 L181.50,156.75 L182.00,155.57 L182.50,154.47 L183.00,153.46 L183.50,152.53 L184.00,151.69 L184.50,150.94 L185.00,150.28 L185.50,149.71 L186.00,149.24 L186.50,148.86 L187.00,148.58 L187.50,148.39 L188.00,148.31 L188.50,148.32 L189.00,148.47 L189.50,148.73 L190.00,149.13 L190.50,149.65 L191.00,150.29 L191.50,151.04 L192.00,151.91 L192.50,152.90 L193.00,153.98 L193.50,155.17 L194.00,156.46 L194.50,157.83 L195.00,159.29 L195.50,160.83 L196.00,162.44 L196.50,164.12 L197.00,165.86 L197.50,167.65 L198.00,169.49 L198.50,171.38 L199.00,173.30 L199.50,175.25 L200.00,177.23 L200.50,179.22 L201.00,181.24 L201.50,183.26 L202.00,185.29 L202.50,187.32 L203.00,189.35 L203.50,191.37 L204.00,193.39 L204.50,195.39 L205.00,197.38 L205.50,199.35 L206.00,201.29 L206.50,203.22 L207.00,205.12 L207.50,207.00 L208.00,208.84 L208.50,210.66 L209.00,212.45 L209.50,214.21 L210.00,215.93 L210.50,217.63 L211.00,219.29 L211.50,220.92 L212.00,222.51 L212.50,224.07 L213.00,225.60 L213.50,227.09 L214.00,228.55 L214.50,229.98 L215.00,231.37 L215.50,232.73 L216.00,234.06 L216.50,235.35 L217.00,236.62 L217.50,237.85 L218.00,239.06 L218.50,240.23 L219.00,241.37 L219.50,242.49 L220.00,243.57 L220.50,244.63 L221.00,245.66 L221.50,246.67 L222.00,247.65 L222.50,248.60 L223.00,249.53 L223.50,250.43 L224.00,251.32 L224.50,252.17 L225.00,253.01 L225.50,253.83 L226.00,254.62 L226.50,255.39 L227.00,256.14 L227.50,256.88 L228.00,257.59 L228.50,258.29 L229.00,258.96 L229.50,259.62 L230.00,260.27 L230.50,260.89 L231.00,261.51 L231.50,262.10 L232.00,262.68 L232.50,263.25 L233.00,263.80 L233.50,264.33 L234.00,264.86 L234.50,265.37 L235.00,265.86 L235.50,266.35 L236.00,266.82 L236.50,267.28 L237.00,267.73 L237.50,268.17 L238.00,268.60 L238.50,269.02 L239.00,269.43 L239.50,269.82 L240.00,270.21 L240.50,270.59 L241.00,270.96 L241.50,271.32 L242.00,271.67 L242.50,272.02 L243.00,272.35 L243.50,272.68 L244.00,273.00 L244.50,273.32 L245.00,273.62 L245.50,273.92 L246.00,274.21 L246.50,274.50 L247.00,274.78 L247.50,275.05 L248.00,275.32 L248.50,275.58 L249.00,275.83 L249.50,276.08 L250.00,276.33 L250.50,276.57 L251.00,276.80 L251.50,277.03 L252.00,277.25 L252.50,277.47 L253.00,277.68 L253.50,277.89 L254.00,278.10 L254.50,278.30 L255.00,278.49 L255.50,278.69 L256.00,278.87 L256.50,279.06 L257.00,279.24 L257.50,279.42 L258.00,279.59 L258.50,279.76 L259.00,279.93 L259.50,280.09 L260.00,280.25 L260.50,280.41 L261.00,280.56 L261.50,280.71 L262.00,280.86 L262.50,281.00 L263.00,281.14 L263.50,281.28 L264.00,281.42 L264.50,281.55 L265.00,281.68 L265.50,281.81 L266.00,281.94 L266.50,282.06 L267.00,282.18 L267.50,282.30 L268.00,282.42 L268.50,282.54 L269.00,282.65 L269.50,282.76 L270.00,282.87 L270.50,282.98 L271.00,283.08 L271.50,283.18 L272.00,283.28 L272.50,283.38 L273.00,283.48 L273.50,283.58 L274.00,283.67 L274.50,283.76 L275.00,283.86 L275.50,283.95 L276.00,284.03 L276.50,284.12 L277.00,284.20 L277.50,284.29 L278.00,284.37 L278.50,284.45 L279.00,284.53 L279.50,284.61 L280.00,284.68 L280.50,284.76 L281.00,284.83 L281.50,284.91 L282.00,284.98 L282.50,285.05 L283.00,285.12 L283.50,285.19 L284.00,285.25 L284.50,285.32 L285.00,285.39 L285.50,285.45 L286.00,285.51 L286.50,285.57 L287.00,285.64 L287.50,285.70 L288.00,285.76 L288.50,285.81 L289.00,285.87 L289.50,285.93 L290.00,285.98 L290.50,286.04 L291.00,286.09 L291.50,286.15 L292.00,286.20 L292.50,286.25 L293.00,286.30 L293.50,286.35 L294.00,286.40 L294.50,286.45 L295.00,286.50 L295.50,286.54 L296.00,286.59 L296.50,286.64 L297.00,286.68 L297.50,286.73 L298.00,286.77 L298.50,286.81 L299.00,286.85 L299.50,286.90 L300.00,286.94 L300.50,286.98 L301.00,287.02 L301.50,287.06 L302.00,287.10 L302.50,287.14 L303.00,287.18 L303.50,287.21 L304.00,287.25 L304.50,287.29 L305.00,287.32 L305.50,287.36 L306.00,287.39 L306.50,287.43 L307.00,287.46 L307.50,287.50 L308.00,287.53 L308.50,287.56 L309.00,287.59 L309.50,287.63 L310.00,287.66 L310.50,287.69 L311.00,287.72 L311.50,287.75 L312.00,287.78 L312.50,287.81 L313.00,287.84 L313.50,287.87 L314.00,287.90 L314.50,287.92 L315.00,287.95 L315.50,287.98 L316.00,288.01 L316.50,288.03 L317.00,288.06 L317.50,288.08 L318.00,288.11 L318.50,288.14 L319.00,288.16 L319.50,288.19 L320.00,288.21 L320.50,288.23 L321.00,288.26 L321.50,288.28 L322.00,288.31 L322.50,288.33 L323.00,288.35 L323.50,288.37 L324.00,288.40 L324.50,288.42 L325.00,288.44 L325.50,288.46 L326.00,288.48 L326.50,288.50 L327.00,288.52 L327.50,288.54 L328.00,288.56 L328.50,288.58 L329.00,288.60 L329.50,288.62 L330.00,288.64 L330.50,288.66 L331.00,288.68 L331.50,288.70 L332.00,288.72 L332.50,288.74 L333.00,288.75 L333.50,288.77 L334.00,288.79 L334.50,288.81 L335.00,288.82 L335.50,288.84 L336.00,288.86 L336.50,288.87 L337.00,288.89 L337.50,288.91 L338.00,288.92 L338.50,288.94 L339.00,288.96 L339.50,288.97 L340.00,288.99 L340.50,289.00 L341.00,289.02 L341.50,289.03 L342.00,289.05 L342.50,289.06 L343.00,289.08 L343.50,289.09 L344.00,289.10 L344.50,289.12 L345.00,289.13 L345.50,289.15 L346.00,289.16 L346.50,289.17 L347.00,289.19 L347.50,289.20 L348.00,289.21 L348.50,289.23 L349.00,289.24 L349.50,289.25 L350.00,289.26 L350.50,289.28 L351.00,289.29 L351.50,289.30 L352.00,289.31 L352.50,289.32 L353.00,289.34 L353.50,289.35 L354.00,289.36 L354.50,289.37 L355.00,289.38 L355.50,289.39 L356.00,289.41 L356.50,289.42 L357.00,289.43 L357.50,289.44 L358.00,289.45 L358.50,289.46 L359.00,289.47 L359.50,289.48 L360.00,289.49 L360.50,289.50 L361.00,289.51 L361.50,289.52 L362.00,289.53 L362.50,289.54 L363.00,289.55 L363.50,289.56 L364.00,289.57 L364.50,289.58 L365.00,289.59 L365.50,289.60 L366.00,289.61 L366.50,289.62 L367.00,289.62 L367.50,289.63 L368.00,289.64 L368.50,289.65 L369.00,289.66 L369.50,289.67 L370.00,289.68 L370.50,289.69 L371.00,289.69 L371.50,289.70 L372.00,289.71 L372.50,289.72 L373.00,289.73 L373.50,289.73 L374.00,289.74 L374.50,289.75 L375.00,289.76 L375.50,289.77 L376.00,289.77 L376.50,289.78 L377.00,289.79 L377.50,289.80 L378.00,289.80 L378.50,289.81 L379.00,289.82 L379.50,289.83 L380.00,289.83 L380.50,289.84 L381.00,289.85 L381.50,289.85 L382.00,289.86 L382.50,289.87 L383.00,289.87 L383.50,289.88 L384.00,289.89 L384.50,289.89 L385.00,289.90 L385.50,289.91 L386.00,289.91 L386.50,289.92 L387.00,289.93 L387.50,289.93 L388.00,289.94 L388.50,289.95 L389.00,289.95 L389.50,289.96 L390.00,289.96 L390.50,289.97 L391.00,289.98 L391.50,289.98 L392.00,289.99 L392.50,289.99 L393.00,290.00 L393.50,290.01 L394.00,290.01 L394.50,290.02 L395.00,290.02 L395.50,290.03 L396.00,290.03 L396.50,290.04 L397.00,290.04 L397.50,290.05 L398.00,290.05 L398.50,290.06 L399.00,290.07 L399.50,290.07 L400.00,290.08 L400.50,290.08 L401.00,290.09 L401.50,290.09 L402.00,290.10 L402.50,290.10 L403.00,290.11 L403.50,290.11 L404.00,290.12 L404.50,290.12 L405.00,290.12 L405.50,290.13 L406.00,290.13 L406.50,290.14 L407.00,290.14 L407.50,290.15 L408.00,290.15 L408.50,290.16 L409.00,290.16 L409.50,290.17 L410.00,290.17 L410.50,290.17 L411.00,290.18 L411.50,290.18 L412.00,290.19 L412.50,290.19 L413.00,290.20 L413.50,290.20 L414.00,290.20 L414.50,290.21 L415.00,290.21 L415.50,290.22 L416.00,290.22 L416.50,290.23 L417.00,290.23 L417.50,290.23 L418.00,290.24 L418.50,290.24 L419.00,290.24 L419.50,290.25 L420.00,290.25 L420.50,290.26 L421.00,290.26 L421.50,290.26 L422.00,290.27 L422.50,290.27 L423.00,290.27 L423.50,290.28 L424.00,290.28 L424.50,290.29 L425.00,290.29 L425.50,290.29 L426.00,290.30 L426.50,290.30 L427.00,290.30 L427.50,290.31 L428.00,290.31 L428.50,290.31 L429.00,290.32 L429.50,290.32 L430.00,290.32 L430.50,290.33 L431.00,290.33 L431.50,290.33 L432.00,290.34 L432.50,290.34 L433.00,290.34 L433.50,290.35 L434.00,290.35 L434.50,290.35 L435.00,290.36 L435.50,290.36 L436.00,290.36 L436.50,290.36 L437.00,290.37 L437.50,290.37 L438.00,290.37 L438.50,290.38 L439.00,290.38 L439.50,290.38 L440.00,290.38 L440.50,290.39 L441.00,290.39 L441.50,290.39 L442.00,290.40 L442.50,290.40 L443.00,290.40 L443.50,290.40 L444.00,290.41 L444.50,290.41 L445.00,290.41 L445.50,290.42 L446.00,290.42 L446.50,290.42 L447.00,290.42 L447.50,290.43 L448.00,290.43 L448.50,290.43 L449.00,290.43 L449.50,290.44 L450.00,290.44 L450.50,290.44 L451.00,290.44 L451.50,290.45 L452.00,290.45 L452.50,290.45 L453.00,290.45 L453.50,290.46 L454.00,290.46 L454.50,290.46 L455.00,290.46 L455.50,290.47 L456.00,290.47 L456.50,290.47 L457.00,290.47 L457.50,290.48 L458.00,290.48 L458.50,290.48 L459.00,290.48 L459.50,290.48 L460.00,290.49 L460.50,290.49 L461.00,290.49 L461.50,290.49 L462.00,290.50 L462.50,290.50 L463.00,290.50 L463.50,290.50 L464.00,290.50 L464.50,290.51 L465.00,290.51 L465.50,290.51 L466.00,290.51 L466.50,290.51 L467.00,290.52 L467.50,290.52 L468.00,290.52 L468.50,290.52 L469.00,290.52 L469.50,290.53 L470.00,290.53 L470.50,290.53 L471.00,290.53 L471.50,290.53 L472.00,290.54 L472.50,290.54 L473.00,290.54 L473.50,290.54 L474.00,290.54 L474.50,290.55 L475.00,290.55 L475.50,290.55 L476.00,290.55 L476.50,290.55 L477.00,290.56 L477.50,290.56 L478.00,290.56 L478.50,290.56 L479.00,290.56 L479.50,290.56 L480.00,290.57 L480.50,290.57 L481.00,290.57 L481.50,290.57 L482.00,290.57 L482.50,290.57 L483.00,290.58 L483.50,290.58 L484.00,290.58 L484.50,290.58 L485.00,290.58 L485.50,290.58 L486.00,290.59 L486.50,290.59 L487.00,290.59 L487.50,290.59 L488.00,290.59 L488.50,290.59 L489.00,290.60 L489.50,290.60 L490.00,290.60 L490.50,290.60 L491.00,290.60 L491.50,290.60 L492.00,290.61 L492.50,290.61 L493.00,290.61 L493.50,290.61 L494.00,290.61 L494.50,290.61 L495.00,290.61 L495.50,290.62 L496.00,290.62 L496.50,290.62 L497.00,290.62 L497.50,290.62 L498.00,290.62 L498.50,290.62 L499.00,290.63 L499.50,290.63 L500.00,290.63 L500.50,290.63 L501.00,290.63 L501.50,290.63 L502.00,290.63 L502.50,290.64 L503.00,290.64 L503.50,290.64 L504.00,290.64 L504.50,290.64 L505.00,290.64 L505.50,290.64 L506.00,290.65 L506.50,290.65 L507.00,290.65 L507.50,290.65 L508.00,290.65 L508.50,290.65 L509.00,290.65 L509.50,290.65 L510.00,290.66 L510.50,290.66 L511.00,290.66 L511.50,290.66 L512.00,290.66 L512.50,290.66 L513.00,290.66 L513.50,290.66 L514.00,290.67 L514.50,290.67 L515.00,290.67 L515.50,290.67 L516.00,290.67 L516.50,290.67" stroke="#63ad3b" stroke-width="3"/>
<path d="M83.50,290.97 L84.00,290.97 L84.50,290.97 L85.00,290.96 L85.50,290.96 L86.00,290.96 L86.50,290.96 L87.00,290.95 L87.50,290.95 L88.00,290.95 L88.50,290.95 L89.00,290.94 L89.50,290.94 L90.00,290.94 L90.50,290.94 L91.00,290.93 L91.50,290.93 L92.00,290.92 L92.50,290.92 L93.00,290.92 L93.50,290.91 L94.00,290.91 L94.50,290.90 L95.00,290.90 L95.50,290.89 L96.00,290.89 L96.50,290.88 L97.00,290.87 L97.50,290.87 L98.00,290.86 L98.50,290.85 L99.00,290.84 L99.50,290.84 L100.00,290.83 L100.50,290.82 L101.00,290.81 L101.50,290.80 L102.00,290.79 L102.50,290.77 L103.00,290.76 L103.50,290.75 L104.00,290.73 L104.50,290.72 L105.00,290.70 L105.50,290.69 L106.00,290.67 L106.50,290.65 L107.00,290.63 L107.50,290.61 L108.00,290.59 L108.50,290.57 L109.00,290.54 L109.50,290.52 L110.00,290.49 L110.50,290.46 L111.00,290.43 L111.50,290.40 L112.00,290.37 L112.50,290.33 L113.00,290.29 L113.50,290.25 L114.00,290.21 L114.50,290.17 L115.00,290.12 L115.50,290.07 L116.00,290.02 L116.50,289.96 L117.00,289.91 L117.50,289.84 L118.00,289.78 L118.50,289.71 L119.00,289.64 L119.50,289.56 L120.00,289.48 L120.50,289.39 L121.00,289.30 L121.50,289.21 L122.00,289.10 L122.50,289.00 L123.00,288.88 L123.50,288.77 L124.00,288.64 L124.50,288.51 L125.00,288.37 L125.50,288.22 L126.00,288.06 L126.50,287.90 L127.00,287.72 L127.50,287.54 L128.00,287.34 L128.50,287.14 L129.00,286.92 L129.50,286.69 L130.00,286.45 L130.50,286.20 L131.00,285.93 L131.50,285.65 L132.00,285.36 L132.50,285.04 L133.00,284.72 L133.50,284.37 L134.00,284.00 L134.50,283.62 L135.00,283.22 L135.50,282.79 L136.00,282.35 L136.50,281.88 L137.00,281.38 L137.50,280.86 L138.00,280.32 L138.50,279.75 L139.00,279.14 L139.50,278.51 L140.00,277.85 L140.50,277.15 L141.00,276.43 L141.50,275.66 L142.00,274.86 L142.50,274.02 L143.00,273.14 L143.50,272.23 L144.00,271.26 L144.50,270.26 L145.00,269.21 L145.50,268.11 L146.00,266.96 L146.50,265.76 L147.00,264.51 L147.50,263.21 L148.00,261.85 L148.50,260.43 L149.00,258.96 L149.50,257.42 L150.00,255.82 L150.50,254.16 L151.00,252.44 L151.50,250.65 L152.00,248.79 L152.50,246.87 L153.00,244.87 L153.50,242.80 L154.00,240.66 L154.50,238.45 L155.00,236.16 L155.50,233.80 L156.00,231.36 L156.50,228.85 L157.00,226.26 L157.50,223.59 L158.00,220.85 L158.50,218.03 L159.00,215.14 L159.50,212.17 L160.00,209.13 L160.50,206.02 L161.00,202.83 L161.50,199.58 L162.00,196.25 L162.50,192.87 L163.00,189.41 L163.50,185.90 L164.00,182.33 L164.50,178.71 L165.00,175.03 L165.50,171.31 L166.00,167.55 L166.50,163.75 L167.00,159.92 L167.50,156.06 L168.00,152.17 L168.50,148.27 L169.00,144.36 L169.50,140.44 L170.00,136.53 L170.50,132.63 L171.00,128.74 L171.50,124.87 L172.00,121.03 L172.50,117.24 L173.00,113.48 L173.50,109.78 L174.00,106.14 L174.50,102.57 L175.00,99.08 L175.50,95.67 L176.00,92.36 L176.50,89.14 L177.00,86.04 L177.50,83.05 L178.00,80.18 L178.50,77.44 L179.00,74.84 L179.50,72.39 L180.00,70.08 L180.50,67.93 L181.00,65.95 L181.50,64.13 L182.00,62.49 L182.50,61.02 L183.00,59.74 L183.50,58.64 L184.00,57.73 L184.50,57.00 L185.00,56.48 L185.50,56.14 L186.00,56.00 L186.50,56.05 L187.00,56.24 L187.50,56.58 L188.00,57.06 L188.50,57.69 L189.00,58.47 L189.50,59.38 L190.00,60.43 L190.50,61.62 L191.00,62.94 L191.50,64.38 L192.00,65.95 L192.50,67.63 L193.00,69.43 L193.50,71.34 L194.00,73.36 L194.50,75.47 L195.00,77.67 L195.50,79.96 L196.00,82.33 L196.50,84.78 L197.00,87.30 L197.50,89.88 L198.00,92.52 L198.50,95.22 L199.00,97.96 L199.50,100.74 L200.00,103.56 L200.50,106.41 L201.00,109.28 L201.50,112.18 L202.00,115.09 L202.50,118.02 L203.00,120.95 L203.50,123.89 L204.00,126.82 L204.50,129.75 L205.00,132.67 L205.50,135.58 L206.00,138.48 L206.50,141.35 L207.00,144.21 L207.50,147.04 L208.00,149.85 L208.50,152.63 L209.00,155.38 L209.50,158.10 L210.00,160.79 L210.50,163.44 L211.00,166.05 L211.50,168.63 L212.00,171.17 L212.50,173.67 L213.00,176.14 L213.50,178.56 L214.00,180.94 L214.50,183.27 L215.00,185.57 L215.50,187.83 L216.00,190.04 L216.50,192.21 L217.00,194.34 L217.50,196.43 L218.00,198.47 L218.50,200.48 L219.00,202.44 L219.50,204.36 L220.00,206.24 L220.50,208.08 L221.00,209.88 L221.50,211.65 L222.00,213.37 L222.50,215.05 L223.00,216.70 L223.50,218.31 L224.00,219.89 L224.50,221.43 L225.00,222.93 L225.50,224.40 L226.00,225.83 L226.50,227.23 L227.00,228.60 L227.50,229.94 L228.00,231.25 L228.50,232.52 L229.00,233.77 L229.50,234.98 L230.00,236.17 L230.50,237.33 L231.00,238.46 L231.50,239.56 L232.00,240.64 L232.50,241.69 L233.00,242.72 L233.50,243.72 L234.00,244.70 L234.50,245.66 L235.00,246.59 L235.50,247.50 L236.00,248.39 L236.50,249.26 L237.00,250.10 L237.50,250.93 L238.00,251.74 L238.50,252.53 L239.00,253.30 L239.50,254.05 L240.00,254.78 L240.50,255.50 L241.00,256.20 L241.50,256.88 L242.00,257.55 L242.50,258.20 L243.00,258.84 L243.50,259.46 L244.00,260.07 L244.50,260.66 L245.00,261.24 L245.50,261.80 L246.00,262.36 L246.50,262.90 L247.00,263.43 L247.50,263.94 L248.00,264.45 L248.50,264.94 L249.00,265.42 L249.50,265.89 L250.00,266.35 L250.50,266.80 L251.00,267.24 L251.50,267.67 L252.00,268.09 L252.50,268.50 L253.00,268.90 L253.50,269.30 L254.00,269.68 L254.50,270.06 L255.00,270.42 L255.50,270.78 L256.00,271.14 L256.50,271.48 L257.00,271.82 L257.50,272.15 L258.00,272.47 L258.50,272.79 L259.00,273.09 L259.50,273.40 L260.00,273.69 L260.50,273.98 L261.00,274.27 L261.50,274.55 L262.00,274.82 L262.50,275.08 L263.00,275.35 L263.50,275.60 L264.00,275.85 L264.50,276.10 L265.00,276.34 L265.50,276.57 L266.00,276.80 L266.50,277.03 L267.00,277.25 L267.50,277.47 L268.00,277.68 L268.50,277.89 L269.00,278.09 L269.50,278.29 L270.00,278.49 L270.50,278.68 L271.00,278.87 L271.50,279.06 L272.00,279.24 L272.50,279.42 L273.00,279.59 L273.50,279.76 L274.00,279.93 L274.50,280.10 L275.00,280.26 L275.50,280.42 L276.00,280.57 L276.50,280.72 L277.00,280.87 L277.50,281.02 L278.00,281.17 L278.50,281.31 L279.00,281.45 L279.50,281.58 L280.00,281.72 L280.50,281.85 L281.00,281.98 L281.50,282.11 L282.00,282.23 L282.50,282.35 L283.00,282.47 L283.50,282.59 L284.00,282.71 L284.50,282.82 L285.00,282.93 L285.50,283.04 L286.00,283.15 L286.50,283.26 L287.00,283.36 L287.50,283.46 L288.00,283.57 L288.50,283.66 L289.00,283.76 L289.50,283.86 L290.00,283.95 L290.50,284.04 L291.00,284.13 L291.50,284.22 L292.00,284.31 L292.50,284.40 L293.00,284.48 L293.50,284.57 L294.00,284.65 L294.50,284.73 L295.00,284.81 L295.50,284.89 L296.00,284.96 L296.50,285.04 L297.00,285.11 L297.50,285.19 L298.00,285.26 L298.50,285.33 L299.00,285.40 L299.50,285.47 L300.00,285.54 L300.50,285.60 L301.00,285.67 L301.50,285.73 L302.00,285.80 L302.50,285.86 L303.00,285.92 L303.50,285.98 L304.00,286.04 L304.50,286.10 L305.00,286.16 L305.50,286.21 L306.00,286.27 L306.50,286.33 L307.00,286.38 L307.50,286.43 L308.00,286.49 L308.50,286.54 L309.00,286.59 L309.50,286.64 L310.00,286.69 L310.50,286.74 L311.00,286.79 L311.50,286.83 L312.00,286.88 L312.50,286.93 L313.00,286.97 L313.50,287.02 L314.00,287.06 L314.50,287.11 L315.00,287.15 L315.50,287.19 L316.00,287.23 L316.50,287.27 L317.00,287.31 L317.50,287.35 L318.00,287.39 L318.50,287.43 L319.00,287.47 L319.50,287.51 L320.00,287.55 L320.50,287.58 L321.00,287.62 L321.50,287.65 L322.00,287.69 L322.50,287.72 L323.00,287.76 L323.50,287.79 L324.00,287.82 L324.50,287.86 L325.00,287.89 L325.50,287.92 L326.00,287.95 L326.50,287.98 L327.00,288.02 L327.50,288.05 L328.00,288.08 L328.50,288.11 L329.00,288.13 L329.50,288.16 L330.00,288.19 L330.50,288.22 L331.00,288.25 L331.50,288.27 L332.00,288.30 L332.50,288.33 L333.00,288.35 L333.50,288.38 L334.00,288.41 L334.50,288.43 L335.00,288.46 L335.50,288.48 L336.00,288.50 L336.50,288.53 L337.00,288.55 L337.50,288.58 L338.00,288.60 L338.50,288.62 L339.00,288.64 L339.50,288.67 L340.00,288.69 L340.50,288.71 L341.00,288.73 L341.50,288.75 L342.00,288.77 L342.50,288.79 L343.00,288.82 L343.50,288.84 L344.00,288.86 L344.50,288.87 L345.00,288.89 L345.50,288.91 L346.00,288.93 L346.50,288.95 L347.00,288.97 L347.50,288.99 L348.00,289.01 L348.50,289.02 L349.00,289.04 L349.50,289.06 L350.00,289.08 L350.50,289.09 L351.00,289.11 L351.50,289.13 L352.00,289.14 L352.50,289.16 L353.00,289.18 L353.50,289.19 L354.00,289.21 L354.50,289.22 L355.00,289.24 L355.50,289.25 L356.00,289.27 L356.50,289.28 L357.00,289.30 L357.50,289.31 L358.00,289.33 L358.50,289.34 L359.00,289.36 L359.50,289.37 L360.00,289.38 L360.50,289.40 L361.00,289.41 L361.50,289.42 L362.00,289.44 L362.50,289.45 L363.00,289.46 L363.50,289.48 L364.00,289.49 L364.50,289.50 L365.00,289.51 L365.50,289.52 L366.00,289.54 L366.50,289.55 L367.00,289.56 L367.50,289.57 L368.00,289.58 L368.50,289.60 L369.00,289.61 L369.50,289.62 L370.00,289.63 L370.50,289.64 L371.00,289.65 L371.50,289.66 L372.00,289.67 L372.50,289.68 L373.00,289.69 L373.50,289.70 L374.00,289.71 L374.50,289.72 L375.00,289.73 L375.50,289.74 L376.00,289.75 L376.50,289.76 L377.00,289.77 L377.50,289.78 L378.00,289.79 L378.50,289.80 L379.00,289.81 L379.50,289.82 L380.00,289.83 L380.50,289.84 L381.00,289.85 L381.50,289.85 L382.00,289.86 L382.50,289.87 L383.00,289.88 L383.50,289.89 L384.00,289.90 L384.50,289.90 L385.00,289.91 L385.50,289.92 L386.00,289.93 L386.50,289.94 L387.00,289.94 L387.50,289.95 L388.00,289.96 L388.50,289.97 L389.00,289.98 L389.50,289.98 L390.00,289.99 L390.50,290.00 L391.00,290.00 L391.50,290.01 L392.00,290.02 L392.50,290.03 L393.00,290.03 L393.50,290.04 L394.00,290.05 L394.50,290.05 L395.00,290.06 L395.50,290.07 L396.00,290.07 L396.50,290.08 L397.00,290.09 L397.50,290.09 L398.00,290.10 L398.50,290.11 L399.00,290.11 L399.50,290.12 L400.00,290.12 L400.50,290.13 L401.00,290.14 L401.50,290.14 L402.00,290.15 L402.50,290.15 L403.00,290.16 L403.50,290.17 L404.00,290.17 L404.50,290.18 L405.00,290.18 L405.50,290.19 L406.00,290.19 L406.50,290.20 L407.00,290.20 L407.50,290.21 L408.00,290.22 L408.50,290.22 L409.00,290.23 L409.50,290.23 L410.00,290.24 L410.50,290.24 L411.00,290.25 L411.50,290.25 L412.00,290.26 L412.50,290.26 L413.00,290.27 L413.50,290.27 L414.00,290.28 L414.50,290.28 L415.00,290.28 L415.50,290.29 L416.00,290.29 L416.50,290.30 L417.00,290.30 L417.50,290.31 L418.00,290.31 L418.50,290.32 L419.00,290.32 L419.50,290.33 L420.00,290.33 L420.50,290.33 L421.00,290.34 L421.50,290.34 L422.00,290.35 L422.50,290.35 L423.00,290.35 L423.50,290.36 L424.00,290.36 L424.50,290.37 L425.00,290.37 L425.50,290.37 L426.00,290.38 L426.50,290.38 L427.00,290.39 L427.50,290.39 L428.00,290.39 L428.50,290.40 L429.00,290.40 L429.50,290.40 L430.00,290.41 L430.50,290.41 L431.00,290.42 L431.50,290.42 L432.00,290.42 L432.50,290.43 L433.00,290.43 L433.50,290.43 L434.00,290.44 L434.50,290.44 L435.00,290.44 L435.50,290.45 L436.00,290.45 L436.50,290.45 L437.00,290.46 L437.50,290.46 L438.00,290.46 L438.50,290.47 L439.00,290.47 L439.50,290.47 L440.00,290.48 L440.50,290.48 L441.00,290.48 L441.50,290.48 L442.00,290.49 L442.50,290.49 L443.00,290.49 L443.50,290.50 L444.00,290.50 L444.50,290.50 L445.00,290.51 L445.50,290.51 L446.00,290.51 L446.50,290.51 L447.00,290.52 L447.50,290.52 L448.00,290.52 L448.50,290.52 L449.00,290.53 L449.50,290.53 L450.00,290.53 L450.50,290.54 L451.00,290.54 L451.50,290.54 L452.00,290.54 L452.50,290.55 L453.00,290.55 L453.50,290.55 L454.00,290.55 L454.50,290.56 L455.00,290.56 L455.50,290.56 L456.00,290.56 L456.50,290.57 L457.00,290.57 L457.50,290.57 L458.00,290.57 L458.50,290.58 L459.00,290.58 L459.50,290.58 L460.00,290.58 L460.50,290.58 L461.00,290.59 L461.50,290.59 L462.00,290.59 L462.50,290.59 L463.00,290.60 L463.50,290.60 L464.00,290.60 L464.50,290.60 L465.00,290.60 L465.50,290.61 L466.00,290.61 L466.50,290.61 L467.00,290.61 L467.50,290.62 L468.00,290.62 L468.50,290.62 L469.00,290.62 L469.50,290.62 L470.00,290.63 L470.50,290.63 L471.00,290.63 L471.50,290.63 L472.00,290.63 L472.50,290.63 L473.00,290.64 L473.50,290.64 L474.00,290.64 L474.50,290.64 L475.00,290.64 L475.50,290.65 L476.00,290.65 L476.50,290.65 L477.00,290.65 L477.50,290.65 L478.00,290.66 L478.50,290.66 L479.00,290.66 L479.50,290.66 L480.00,290.66 L480.50,290.66 L481.00,290.67 L481.50,290.67 L482.00,290.67 L482.50,290.67 L483.00,290.67 L483.50,290.67 L484.00,290.68 L484.50,290.68 L485.00,290.68 L485.50,290.68 L486.00,290.68 L486.50,290.68 L487.00,290.69 L487.50,290.69 L488.00,290.69 L488.50,290.69 L489.00,290.69 L489.50,290.69 L490.00,290.69 L490.50,290.70 L491.00,290.70 L491.50,290.70 L492.00,290.70 L492.50,290.70 L493.00,290.70 L493.50,290.71 L494.00,290.71 L494.50,290.71 L495.00,290.71 L495.50,290.71 L496.00,290.71 L496.50,290.71 L497.00,290.72 L497.50,290.72 L498.00,290.72 L498.50,290.72 L499.00,290.72 L499.50,290.72 L500.00,290.72 L500.50,290.72 L501.00,290.73 L501.50,290.73 L502.00,290.73 L502.50,290.73 L503.00,290.73 L503.50,290.73 L504.00,290.73 L504.50,290.73 L505.00,290.74 L505.50,290.74 L506.00,290.74 L506.50,290.74 L507.00,290.74 L507.50,290.74 L508.00,290.74 L508.50,290.74 L509.00,290.75 L509.50,290.75 L510.00,290.75 L510.50,290.75 L511.00,290.75 L511.50,290.75 L512.00,290.75 L512.50,290.75 L513.00,290.76 L513.50,290.76 L514.00,290.76 L514.50,290.76 L515.00,290.76 L515.50,290.76 L516.00,290.76 L516.50,290.76" stroke="#2d6daf" stroke-width="3"/>
<path d="M83.50,486.99 L84.00,486.99 L84.50,486.99 L85.00,486.99 L85.50,486.99 L86.00,486.99 L86.50,486.99 L87.00,486.99 L87.50,486.99 L88.00,486.99 L88.50,486.99 L89.00,486.99 L89.50,486.99 L90.00,486.99 L90.50,486.99 L91.00,486.99 L91.50,486.99 L92.00,486.99 L92.50,486.99 L93.00,486.99 L93.50,486.99 L94.00,486.99 L94.50,486.99 L95.00,486.99 L95.50,486.99 L96.00,486.98 L96.50,486.98 L97.00,486.98 L97.50,486.98 L98.00,486.98 L98.50,486.98 L99.00,486.98 L99.50,486.98 L100.00,486.98 L100.50,486.98 L101.00,486.98 L101.50,486.98 L102.00,486.97 L102.50,486.97 L103.00,486.97 L103.50,486.97 L104.00,486.97 L104.50,486.97 L105.00,486.97 L105.50,486.97 L106.00,486.96 L106.50,486.96 L107.00,486.96 L107.50,486.96 L108.00,486.96 L108.50,486.96 L109.00,486.95 L109.50,486.95 L110.00,486.95 L110.50,486.95 L111.00,486.94 L111.50,486.94 L112.00,486.94 L112.50,486.93 L113.00,486.93 L113.50,486.93 L114.00,486.92 L114.50,486.92 L115.00,486.92 L115.50,486.91 L116.00,486.91 L116.50,486.90 L117.00,486.90 L117.50,486.89 L118.00,486.89 L118.50,486.88 L119.00,486.88 L119.50,486.87 L120.00,486.86 L120.50,486.86 L121.00,486.85 L121.50,486.84 L122.00,486.83 L122.50,486.83 L123.00,486.82 L123.50,486.81 L124.00,486.80 L124.50,486.79 L125.00,486.78 L125.50,486.76 L126.00,486.75 L126.50,486.74 L127.00,486.72 L127.50,486.71 L128.00,486.69 L128.50,486.68 L129.00,486.66 L129.50,486.64 L130.00,486.62 L130.50,486.60 L131.00,486.58 L131.50,486.55 L132.00,486.53 L132.50,486.50 L133.00,486.47 L133.50,486.44 L134.00,486.41 L134.50,486.38 L135.00,486.35 L135.50,486.31 L136.00,486.27 L136.50,486.23 L137.00,486.18 L137.50,486.14 L138.00,486.09 L138.50,486.03 L139.00,485.98 L139.50,485.92 L140.00,485.86 L140.50,485.79 L141.00,485.72 L141.50,485.65 L142.00,485.57 L142.50,485.48 L143.00,485.39 L143.50,485.30 L144.00,485.20 L144.50,485.09 L145.00,484.98 L145.50,484.86 L146.00,484.74 L146.50,484.60 L147.00,484.46 L147.50,484.31 L148.00,484.15 L148.50,483.98 L149.00,483.80 L149.50,483.62 L150.00,483.42 L150.50,483.20 L151.00,482.98 L151.50,482.74 L152.00,482.49 L152.50,482.23 L153.00,481.95 L153.50,481.65 L154.00,481.34 L154.50,481.01 L155.00,480.66 L155.50,480.30 L156.00,479.91 L156.50,479.50 L157.00,479.07 L157.50,478.62 L158.00,478.14 L158.50,477.64 L159.00,477.12 L159.50,476.56 L160.00,475.98 L160.50,475.37 L161.00,474.74 L161.50,474.07 L162.00,473.37 L162.50,472.64 L163.00,471.88 L163.50,471.08 L164.00,470.25 L164.50,469.39 L165.00,468.49 L165.50,467.55 L166.00,466.58 L166.50,465.58 L167.00,464.54 L167.50,463.46 L168.00,462.35 L168.50,461.21 L169.00,460.03 L169.50,458.83 L170.00,457.59 L170.50,456.32 L171.00,455.02 L171.50,453.70 L172.00,452.35 L172.50,450.99 L173.00,449.60 L173.50,448.20 L174.00,446.79 L174.50,445.37 L175.00,443.94 L175.50,442.52 L176.00,441.09 L176.50,439.68 L177.00,438.28 L177.50,436.90 L178.00,435.54 L178.50,434.20 L179.00,432.91 L179.50,431.65 L180.00,430.43 L180.50,429.26 L181.00,428.15 L181.50,427.10 L182.00,426.11 L182.50,425.19 L183.00,424.34 L183.50,423.57 L184.00,422.89 L184.50,422.28 L185.00,421.77 L185.50,421.35 L186.00,421.02 L186.50,420.78 L187.00,420.64 L187.50,420.60 L188.00,420.63 L188.50,420.71 L189.00,420.83 L189.50,421.01 L190.00,421.23 L190.50,421.50 L191.00,421.82 L191.50,422.19 L192.00,422.59 L192.50,423.04 L193.00,423.53 L193.50,424.06 L194.00,424.63 L194.50,425.24 L195.00,425.88 L195.50,426.55 L196.00,427.25 L196.50,427.97 L197.00,428.73 L197.50,429.51 L198.00,430.31 L198.50,431.12 L199.00,431.96 L199.50,432.81 L200.00,433.68 L200.50,434.56 L201.00,435.44 L201.50,436.34 L202.00,437.24 L202.50,438.15 L203.00,439.05 L203.50,439.96 L204.00,440.87 L204.50,441.78 L205.00,442.69 L205.50,443.59 L206.00,444.48 L206.50,445.37 L207.00,446.25 L207.50,447.12 L208.00,447.99 L208.50,448.84 L209.00,449.69 L209.50,450.52 L210.00,451.34 L210.50,452.15 L211.00,452.94 L211.50,453.73 L212.00,454.50 L212.50,455.25 L213.00,456.00 L213.50,456.72 L214.00,457.44 L214.50,458.14 L215.00,458.82 L215.50,459.49 L216.00,460.15 L216.50,460.80 L217.00,461.42 L217.50,462.04 L218.00,462.64 L218.50,463.23 L219.00,463.80 L219.50,464.36 L220.00,464.91 L220.50,465.44 L221.00,465.96 L221.50,466.47 L222.00,466.96 L222.50,467.45 L223.00,467.92 L223.50,468.37 L224.00,468.82 L224.50,469.26 L225.00,469.68 L225.50,470.10 L226.00,470.50 L226.50,470.89 L227.00,471.27 L227.50,471.65 L228.00,472.01 L228.50,472.36 L229.00,472.71 L229.50,473.04 L230.00,473.37 L230.50,473.68 L231.00,473.99 L231.50,474.29 L232.00,474.59 L232.50,474.87 L233.00,475.15 L233.50,475.42 L234.00,475.68 L234.50,475.94 L235.00,476.19 L235.50,476.43 L236.00,476.67 L236.50,476.90 L237.00,477.13 L237.50,477.35 L238.00,477.56 L238.50,477.77 L239.00,477.97 L239.50,478.16 L240.00,478.36 L240.50,478.54 L241.00,478.73 L241.50,478.90 L242.00,479.08 L242.50,479.24 L243.00,479.41 L243.50,479.57 L244.00,479.72 L244.50,479.88 L245.00,480.02 L245.50,480.17 L246.00,480.31 L246.50,480.45 L247.00,480.58 L247.50,480.71 L248.00,480.84 L248.50,480.96 L249.00,481.08 L249.50,481.20 L250.00,481.32 L250.50,481.43 L251.00,481.54 L251.50,481.65 L252.00,481.75 L252.50,481.85 L253.00,481.95 L253.50,482.05 L254.00,482.15 L254.50,482.24 L255.00,482.33 L255.50,482.42 L256.00,482.50 L256.50,482.59 L257.00,482.67 L257.50,482.75 L258.00,482.83 L258.50,482.91 L259.00,482.98 L259.50,483.05 L260.00,483.13 L260.50,483.20 L261.00,483.26 L261.50,483.33 L262.00,483.40 L262.50,483.46 L263.00,483.52 L263.50,483.58 L264.00,483.64 L264.50,483.70 L265.00,483.76 L265.50,483.82 L266.00,483.87 L266.50,483.92 L267.00,483.98 L267.50,484.03 L268.00,484.08 L268.50,484.13 L269.00,484.18 L269.50,484.22 L270.00,484.27 L270.50,484.31 L271.00,484.36 L271.50,484.40 L272.00,484.44 L272.50,484.49 L273.00,484.53 L273.50,484.57 L274.00,484.61 L274.50,484.64 L275.00,484.68 L275.50,484.72 L276.00,484.75 L276.50,484.79 L277.00,484.82 L277.50,484.86 L278.00,484.89 L278.50,484.92 L279.00,484.96 L279.50,484.99 L280.00,485.02 L280.50,485.05 L281.00,485.08 L281.50,485.11 L282.00,485.13 L282.50,485.16 L283.00,485.19 L283.50,485.22 L284.00,485.24 L284.50,485.27 L285.00,485.29 L285.50,485.32 L286.00,485.34 L286.50,485.37 L287.00,485.39 L287.50,485.41 L288.00,485.44 L288.50,485.46 L289.00,485.48 L289.50,485.50 L290.00,485.52 L290.50,485.54 L291.00,485.56 L291.50,485.58 L292.00,485.60 L292.50,485.62 L293.00,485.64 L293.50,485.66 L294.00,485.68 L294.50,485.70 L295.00,485.71 L295.50,485.73 L296.00,485.75 L296.50,485.76 L297.00,485.78 L297.50,485.80 L298.00,485.81 L298.50,485.83 L299.00,485.84 L299.50,485.86 L300.00,485.87 L300.50,485.89 L301.00,485.90 L301.50,485.92 L302.00,485.93 L302.50,485.94 L303.00,485.96 L303.50,485.97 L304.00,485.98 L304.50,486.00 L305.00,486.01 L305.50,486.02 L306.00,486.03 L306.50,486.05 L307.00,486.06 L307.50,486.07 L308.00,486.08 L308.50,486.09 L309.00,486.10 L309.50,486.11 L310.00,486.13 L310.50,486.14 L311.00,486.15 L311.50,486.16 L312.00,486.17 L312.50,486.18 L313.00,486.19 L313.50,486.20 L314.00,486.21 L314.50,486.21 L315.00,486.22 L315.50,486.23 L316.00,486.24 L316.50,486.25 L317.00,486.26 L317.50,486.27 L318.00,486.28 L318.50,486.28 L319.00,486.29 L319.50,486.30 L320.00,486.31 L320.50,486.32 L321.00,486.32 L321.50,486.33 L322.00,486.34 L322.50,486.35 L323.00,486.35 L323.50,486.36 L324.00,486.37 L324.50,486.37 L325.00,486.38 L325.50,486.39 L326.00,486.39 L326.50,486.40 L327.00,486.41 L327.50,486.41 L328.00,486.42 L328.50,486.43 L329.00,486.43 L329.50,486.44 L330.00,486.44 L330.50,486.45 L331.00,486.46 L331.50,486.46 L332.00,486.47 L332.50,486.47 L333.00,486.48 L333.50,486.48 L334.00,486.49 L334.50,486.49 L335.00,486.50 L335.50,486.50 L336.00,486.51 L336.50,486.51 L337.00,486.52 L337.50,486.52 L338.00,486.53 L338.50,486.53 L339.00,486.54 L339.50,486.54 L340.00,486.55 L340.50,486.55 L341.00,486.56 L341.50,486.56 L342.00,486.57 L342.50,486.57 L343.00,486.57 L343.50,486.58 L344.00,486.58 L344.50,486.59 L345.00,486.59 L345.50,486.59 L346.00,486.60 L346.50,486.60 L347.00,486.61 L347.50,486.61 L348.00,486.61 L348.50,486.62 L349.00,486.62 L349.50,486.62 L350.00,486.63 L350.50,486.63 L351.00,486.63 L351.50,486.64 L352.00,486.64 L352.50,486.64 L353.00,486.65 L353.50,486.65 L354.00,486.65 L354.50,486.66 L355.00,486.66 L355.50,486.66 L356.00,486.67 L356.50,486.67 L357.00,486.67 L357.50,486.68 L358.00,486.68 L358.50,486.68 L359.00,486.68 L359.50,486.69 L360.00,486.69 L360.50,486.69 L361.00,486.70 L361.50,486.70 L362.00,486.70 L362.50,486.70 L363.00,486.71 L363.50,486.71 L364.00,486.71 L364.50,486.71 L365.00,486.72 L365.50,486.72 L366.00,486.72 L366.50,486.72 L367.00,486.73 L367.50,486.73 L368.00,486.73 L368.50,486.73 L369.00,486.74 L369.50,486.74 L370.00,486.74 L370.50,486.74 L371.00,486.74 L371.50,486.75 L372.00,486.75 L372.50,486.75 L373.00,486.75 L373.50,486.75 L374.00,486.76 L374.50,486.76 L375.00,486.76 L375.50,486.76 L376.00,486.76 L376.50,486.77 L377.00,486.77 L377.50,486.77 L378.00,486.77 L378.50,486.77 L379.00,486.78 L379.50,486.78 L380.00,486.78 L380.50,486.78 L381.00,486.78 L381.50,486.78 L382.00,486.79 L382.50,486.79 L383.00,486.79 L383.50,486.79 L384.00,486.79 L384.50,486.79 L385.00,486.80 L385.50,486.80 L386.00,486.80 L386.50,486.80 L387.00,486.80 L387.50,486.80 L388.00,486.81 L388.50,486.81 L389.00,486.81 L389.50,486.81 L390.00,486.81 L390.50,486.81 L391.00,486.81 L391.50,486.82 L392.00,486.82 L392.50,486.82 L393.00,486.82 L393.50,486.82 L394.00,486.82 L394.50,486.82 L395.00,486.83 L395.50,486.83 L396.00,486.83 L396.50,486.83 L397.00,486.83 L397.50,486.83 L398.00,486.83 L398.50,486.83 L399.00,486.84 L399.50,486.84 L400.00,486.84 L400.50,486.84 L401.00,486.84 L401.50,486.84 L402.00,486.84 L402.50,486.84 L403.00,486.84 L403.50,486.85 L404.00,486.85 L404.50,486.85 L405.00,486.85 L405.50,486.85 L406.00,486.85 L406.50,486.85 L407.00,486.85 L407.50,486.85 L408.00,486.86 L408.50,486.86 L409.00,486.86 L409.50,486.86 L410.00,486.86 L410.50,486.86 L411.00,486.86 L411.50,486.86 L412.00,486.86 L412.50,486.86 L413.00,486.87 L413.50,486.87 L414.00,486.87 L414.50,486.87 L415.00,486.87 L415.50,486.87 L416.00,486.87 L416.50,486.87 L417.00,486.87 L417.50,486.87 L418.00,486.87 L418.50,486.87 L419.00,486.88 L419.50,486.88 L420.00,486.88 L420.50,486.88 L421.00,486.88 L421.50,486.88 L422.00,486.88 L422.50,486.88 L423.00,486.88 L423.50,486.88 L424.00,486.88 L424.50,486.88 L425.00,486.89 L425.50,486.89 L426.00,486.89 L426.50,486.89 L427.00,486.89 L427.50,486.89 L428.00,486.89 L428.50,486.89 L429.00,486.89 L429.50,486.89 L430.00,486.89 L430.50,486.89 L431.00,486.89 L431.50,486.89 L432.00,486.90 L432.50,486.90 L433.00,486.90 L433.50,486.90 L434.00,486.90 L434.50,486.90 L435.00,486.90 L435.50,486.90 L436.00,486.90 L436.50,486.90 L437.00,486.90 L437.50,486.90 L438.00,486.90 L438.50,486.90 L439.00,486.90 L439.50,486.90 L440.00,486.91 L440.50,486.91 L441.00,486.91 L441.50,486.91 L442.00,486.91 L442.50,486.91 L443.00,486.91 L443.50,486.91 L444.00,486.91 L444.50,486.91 L445.00,486.91 L445.50,486.91 L446.00,486.91 L446.50,486.91 L447.00,486.91 L447.50,486.91 L448.00,486.91 L448.50,486.91 L449.00,486.92 L449.50,486.92 L450.00,486.92 L450.50,486.92 L451.00,486.92 L451.50,486.92 L452.00,486.92 L452.50,486.92 L453.00,486.92 L453.50,486.92 L454.00,486.92 L454.50,486.92 L455.00,486.92 L455.50,486.92 L456.00,486.92 L456.50,486.92 L457.00,486.92 L457.50,486.92 L458.00,486.92 L458.50,486.92 L459.00,486.92 L459.50,486.93 L460.00,486.93 L460.50,486.93 L461.00,486.93 L461.50,486.93 L462.00,486.93 L462.50,486.93 L463.00,486.93 L463.50,486.93 L464.00,486.93 L464.50,486.93 L465.00,486.93 L465.50,486.93 L466.00,486.93 L466.50,486.93 L467.00,486.93 L467.50,486.93 L468.00,486.93 L468.50,486.93 L469.00,486.93 L469.50,486.93 L470.00,486.93 L470.50,486.93 L471.00,486.93 L471.50,486.93 L472.00,486.93 L472.50,486.94 L473.00,486.94 L473.50,486.94 L474.00,486.94 L474.50,486.94 L475.00,486.94 L475.50,486.94 L476.00,486.94 L476.50,486.94 L477.00,486.94 L477.50,486.94 L478.00,486.94 L478.50,486.94 L479.00,486.94 L479.50,486.94 L480.00,486.94 L480.50,486.94 L481.00,486.94 L481.50,486.94 L482.00,486.94 L482.50,486.94 L483.00,486.94 L483.50,486.94 L484.00,486.94 L484.50,486.94 L485.00,486.94 L485.50,486.94 L486.00,486.94 L486.50,486.94 L487.00,486.94 L487.50,486.94 L488.00,486.95 L488.50,486.95 L489.00,486.95 L489.50,486.95 L490.00,486.95 L490.50,486.95 L491.00,486.95 L491.50,486.95 L492.00,486.95 L492.50,486.95 L493.00,486.95 L493.50,486.95 L494.00,486.95 L494.50,486.95 L495.00,486.95 L495.50,486.95 L496.00,486.95 L496.50,486.95 L497.00,486.95 L497.50,486.95 L498.00,486.95 L498.50,486.95 L499.00,486.95 L499.50,486.95 L500.00,486.95 L500.50,486.95 L501.00,486.95 L501.50,486.95 L502.00,486.95 L502.50,486.95 L503.00,486.95 L503.50,486.95 L504.00,486.95 L504.50,486.95 L505.00,486.95 L505.50,486.95 L506.00,486.95 L506.50,486.95 L507.00,486.95 L507.50,486.96 L508.00,486.96 L508.50,486.96 L509.00,486.96 L509.50,486.96 L510.00,486.96 L510.50,486.96 L511.00,486.96 L511.50,486.96 L512.00,486.96 L512.50,486.96 L513.00,486.96 L513.50,486.96 L514.00,486.96 L514.50,486.96 L515.00,486.96 L515.50,486.96 L516.00,486.96 L516.50,486.96" stroke="#6b5aa6" stroke-width="3"/>
<path d="M83.50,487.00 L84.00,487.00 L84.50,487.00 L85.00,487.00 L85.50,487.00 L86.00,487.00 L86.50,487.00 L87.00,487.00 L87.50,487.00 L88.00,487.00 L88.50,487.00 L89.00,487.00 L89.50,487.00 L90.00,487.00 L90.50,487.00 L91.00,487.00 L91.50,487.00 L92.00,487.00 L92.50,487.00 L93.00,487.00 L93.50,487.00 L94.00,487.00 L94.50,487.00 L95.00,487.00 L95.50,487.00 L96.00,487.00 L96.50,487.00 L97.00,487.00 L97.50,487.00 L98.00,487.00 L98.50,487.00 L99.00,487.00 L99.50,487.00 L100.00,487.00 L100.50,487.00 L101.00,487.00 L101.50,487.00 L102.00,487.00 L102.50,487.00 L103.00,487.00 L103.50,487.00 L104.00,487.00 L104.50,487.00 L105.00,487.00 L105.50,487.00 L106.00,487.00 L106.50,486.99 L107.00,486.99 L107.50,486.99 L108.00,486.99 L108.50,486.99 L109.00,486.99 L109.50,486.99 L110.00,486.99 L110.50,486.99 L111.00,486.99 L111.50,486.99 L112.00,486.98 L112.50,486.98 L113.00,486.98 L113.50,486.98 L114.00,486.98 L114.50,486.97 L115.00,486.97 L115.50,486.97 L116.00,486.96 L116.50,486.96 L117.00,486.96 L117.50,486.95 L118.00,486.95 L118.50,486.94 L119.00,486.94 L119.50,486.93 L120.00,486.92 L120.50,486.92 L121.00,486.91 L121.50,486.90 L122.00,486.89 L122.50,486.88 L123.00,486.86 L123.50,486.85 L124.00,486.84 L124.50,486.82 L125.00,486.80 L125.50,486.78 L126.00,486.76 L126.50,486.74 L127.00,486.71 L127.50,486.69 L128.00,486.66 L128.50,486.62 L129.00,486.59 L129.50,486.55 L130.00,486.51 L130.50,486.46 L131.00,486.41 L131.50,486.36 L132.00,486.30 L132.50,486.24 L133.00,486.17 L133.50,486.09 L134.00,486.01 L134.50,485.92 L135.00,485.83 L135.50,485.73 L136.00,485.61 L136.50,485.49 L137.00,485.36 L137.50,485.22 L138.00,485.07 L138.50,484.91 L139.00,484.73 L139.50,484.54 L140.00,484.33 L140.50,484.11 L141.00,483.88 L141.50,483.62 L142.00,483.35 L142.50,483.06 L143.00,482.75 L143.50,482.41 L144.00,482.05 L144.50,481.67 L145.00,481.26 L145.50,480.82 L146.00,480.35 L146.50,479.85 L147.00,479.32 L147.50,478.76 L148.00,478.16 L148.50,477.52 L149.00,476.85 L149.50,476.13 L150.00,475.37 L150.50,474.57 L151.00,473.72 L151.50,472.82 L152.00,471.87 L152.50,470.87 L153.00,469.82 L153.50,468.71 L154.00,467.55 L154.50,466.32 L155.00,465.04 L155.50,463.70 L156.00,462.29 L156.50,460.82 L157.00,459.28 L157.50,457.68 L158.00,456.01 L158.50,454.27 L159.00,452.46 L159.50,450.58 L160.00,448.63 L160.50,446.61 L161.00,444.53 L161.50,442.37 L162.00,440.14 L162.50,437.85 L163.00,435.49 L163.50,433.06 L164.00,430.57 L164.50,428.02 L165.00,425.40 L165.50,422.74 L166.00,420.01 L166.50,417.24 L167.00,414.42 L167.50,411.55 L168.00,408.65 L168.50,405.71 L169.00,402.74 L169.50,399.74 L170.00,396.73 L170.50,393.70 L171.00,390.66 L171.50,387.62 L172.00,384.59 L172.50,381.57 L173.00,378.56 L173.50,375.59 L174.00,372.64 L174.50,369.73 L175.00,366.87 L175.50,364.07 L176.00,361.32 L176.50,358.65 L177.00,356.05 L177.50,353.54 L178.00,351.11 L178.50,348.79 L179.00,346.57 L179.50,344.46 L180.00,342.47 L180.50,340.61 L181.00,338.87 L181.50,337.27 L182.00,335.81 L182.50,334.49 L183.00,333.33 L183.50,332.32 L184.00,331.46 L184.50,330.76 L185.00,330.23 L185.50,329.86 L186.00,329.65 L186.50,329.61 L187.00,329.75 L187.50,330.09 L188.00,330.63 L188.50,331.35 L189.00,332.26 L189.50,333.35 L190.00,334.61 L190.50,336.03 L191.00,337.60 L191.50,339.32 L192.00,341.18 L192.50,343.16 L193.00,345.25 L193.50,347.44 L194.00,349.72 L194.50,352.08 L195.00,354.51 L195.50,356.99 L196.00,359.53 L196.50,362.10 L197.00,364.69 L197.50,367.31 L198.00,369.94 L198.50,372.57 L199.00,375.19 L199.50,377.81 L200.00,380.41 L200.50,382.98 L201.00,385.53 L201.50,388.05 L202.00,390.53 L202.50,392.97 L203.00,395.37 L203.50,397.73 L204.00,400.04 L204.50,402.30 L205.00,404.52 L205.50,406.68 L206.00,408.80 L206.50,410.86 L207.00,412.87 L207.50,414.84 L208.00,416.75 L208.50,418.60 L209.00,420.41 L209.50,422.17 L210.00,423.88 L210.50,425.54 L211.00,427.16 L211.50,428.72 L212.00,430.24 L212.50,431.72 L213.00,433.15 L213.50,434.54 L214.00,435.89 L214.50,437.20 L215.00,438.47 L215.50,439.70 L216.00,440.89 L216.50,442.05 L217.00,443.17 L217.50,444.26 L218.00,445.32 L218.50,446.34 L219.00,447.33 L219.50,448.29 L220.00,449.23 L220.50,450.13 L221.00,451.01 L221.50,451.86 L222.00,452.69 L222.50,453.49 L223.00,454.27 L223.50,455.02 L224.00,455.75 L224.50,456.46 L225.00,457.15 L225.50,457.82 L226.00,458.47 L226.50,459.10 L227.00,459.72 L227.50,460.31 L228.00,460.89 L228.50,461.45 L229.00,462.00 L229.50,462.53 L230.00,463.05 L230.50,463.55 L231.00,464.04 L231.50,464.51 L232.00,464.97 L232.50,465.42 L233.00,465.86 L233.50,466.28 L234.00,466.70 L234.50,467.10 L235.00,467.49 L235.50,467.87 L236.00,468.24 L236.50,468.61 L237.00,468.96 L237.50,469.30 L238.00,469.64 L238.50,469.96 L239.00,470.28 L239.50,470.59 L240.00,470.89 L240.50,471.19 L241.00,471.47 L241.50,471.75 L242.00,472.03 L242.50,472.29 L243.00,472.55 L243.50,472.81 L244.00,473.05 L244.50,473.30 L245.00,473.53 L245.50,473.76 L246.00,473.99 L246.50,474.21 L247.00,474.42 L247.50,474.63 L248.00,474.84 L248.50,475.04 L249.00,475.23 L249.50,475.42 L250.00,475.61 L250.50,475.79 L251.00,475.97 L251.50,476.15 L252.00,476.32 L252.50,476.49 L253.00,476.65 L253.50,476.81 L254.00,476.97 L254.50,477.12 L255.00,477.27 L255.50,477.42 L256.00,477.56 L256.50,477.70 L257.00,477.84 L257.50,477.98 L258.00,478.11 L258.50,478.24 L259.00,478.37 L259.50,478.49 L260.00,478.61 L260.50,478.73 L261.00,478.85 L261.50,478.96 L262.00,479.08 L262.50,479.19 L263.00,479.30 L263.50,479.40 L264.00,479.51 L264.50,479.61 L265.00,479.71 L265.50,479.81 L266.00,479.90 L266.50,480.00 L267.00,480.09 L267.50,480.18 L268.00,480.27 L268.50,480.36 L269.00,480.45 L269.50,480.53 L270.00,480.61 L270.50,480.70 L271.00,480.78 L271.50,480.86 L272.00,480.93 L272.50,481.01 L273.00,481.08 L273.50,481.16 L274.00,481.23 L274.50,481.30 L275.00,481.37 L275.50,481.44 L276.00,481.51 L276.50,481.57 L277.00,481.64 L277.50,481.70 L278.00,481.76 L278.50,481.83 L279.00,481.89 L279.50,481.95 L280.00,482.00 L280.50,482.06 L281.00,482.12 L281.50,482.18 L282.00,482.23 L282.50,482.29 L283.00,482.34 L283.50,482.39 L284.00,482.44 L284.50,482.49 L285.00,482.54 L285.50,482.59 L286.00,482.64 L286.50,482.69 L287.00,482.74 L287.50,482.78 L288.00,482.83 L288.50,482.87 L289.00,482.92 L289.50,482.96 L290.00,483.00 L290.50,483.05 L291.00,483.09 L291.50,483.13 L292.00,483.17 L292.50,483.21 L293.00,483.25 L293.50,483.29 L294.00,483.32 L294.50,483.36 L295.00,483.40 L295.50,483.44 L296.00,483.47 L296.50,483.51 L297.00,483.54 L297.50,483.58 L298.00,483.61 L298.50,483.64 L299.00,483.68 L299.50,483.71 L300.00,483.74 L300.50,483.77 L301.00,483.80 L301.50,483.83 L302.00,483.87 L302.50,483.90 L303.00,483.92 L303.50,483.95 L304.00,483.98 L304.50,484.01 L305.00,484.04 L305.50,484.07 L306.00,484.09 L306.50,484.12 L307.00,484.15 L307.50,484.17 L308.00,484.20 L308.50,484.23 L309.00,484.25 L309.50,484.28 L310.00,484.30 L310.50,484.32 L311.00,484.35 L311.50,484.37 L312.00,484.39 L312.50,484.42 L313.00,484.44 L313.50,484.46 L314.00,484.49 L314.50,484.51 L315.00,484.53 L315.50,484.55 L316.00,484.57 L316.50,484.59 L317.00,484.61 L317.50,484.63 L318.00,484.65 L318.50,484.67 L319.00,484.69 L319.50,484.71 L320.00,484.73 L320.50,484.75 L321.00,484.77 L321.50,484.79 L322.00,484.81 L322.50,484.82 L323.00,484.84 L323.50,484.86 L324.00,484.88 L324.50,484.89 L325.00,484.91 L325.50,484.93 L326.00,484.94 L326.50,484.96 L327.00,484.98 L327.50,484.99 L328.00,485.01 L328.50,485.03 L329.00,485.04 L329.50,485.06 L330.00,485.07 L330.50,485.09 L331.00,485.10 L331.50,485.12 L332.00,485.13 L332.50,485.14 L333.00,485.16 L333.50,485.17 L334.00,485.19 L334.50,485.20 L335.00,485.21 L335.50,485.23 L336.00,485.24 L336.50,485.25 L337.00,485.27 L337.50,485.28 L338.00,485.29 L338.50,485.31 L339.00,485.32 L339.50,485.33 L340.00,485.34 L340.50,485.35 L341.00,485.37 L341.50,485.38 L342.00,485.39 L342.50,485.40 L343.00,485.41 L343.50,485.43 L344.00,485.44 L344.50,485.45 L345.00,485.46 L345.50,485.47 L346.00,485.48 L346.50,485.49 L347.00,485.50 L347.50,485.51 L348.00,485.52 L348.50,485.53 L349.00,485.54 L349.50,485.55 L350.00,485.56 L350.50,485.57 L351.00,485.58 L351.50,485.59 L352.00,485.60 L352.50,485.61 L353.00,485.62 L353.50,485.63 L354.00,485.64 L354.50,485.65 L355.00,485.66 L355.50,485.67 L356.00,485.68 L356.50,485.68 L357.00,485.69 L357.50,485.70 L358.00,485.71 L358.50,485.72 L359.00,485.73 L359.50,485.74 L360.00,485.74 L360.50,485.75 L361.00,485.76 L361.50,485.77 L362.00,485.78 L362.50,485.78 L363.00,485.79 L363.50,485.80 L364.00,485.81 L364.50,485.81 L365.00,485.82 L365.50,485.83 L366.00,485.84 L366.50,485.84 L367.00,485.85 L367.50,485.86 L368.00,485.87 L368.50,485.87 L369.00,485.88 L369.50,485.89 L370.00,485.89 L370.50,485.90 L371.00,485.91 L371.50,485.91 L372.00,485.92 L372.50,485.93 L373.00,485.93 L373.50,485.94 L374.00,485.95 L374.50,485.95 L375.00,485.96 L375.50,485.97 L376.00,485.97 L376.50,485.98 L377.00,485.98 L377.50,485.99 L378.00,486.00 L378.50,486.00 L379.00,486.01 L379.50,486.01 L380.00,486.02 L380.50,486.02 L381.00,486.03 L381.50,486.04 L382.00,486.04 L382.50,486.05 L383.00,486.05 L383.50,486.06 L384.00,486.06 L384.50,486.07 L385.00,486.07 L385.50,486.08 L386.00,486.09 L386.50,486.09 L387.00,486.10 L387.50,486.10 L388.00,486.11 L388.50,486.11 L389.00,486.12 L389.50,486.12 L390.00,486.13 L390.50,486.13 L391.00,486.14 L391.50,486.14 L392.00,486.14 L392.50,486.15 L393.00,486.15 L393.50,486.16 L394.00,486.16 L394.50,486.17 L395.00,486.17 L395.50,486.18 L396.00,486.18 L396.50,486.19 L397.00,486.19 L397.50,486.19 L398.00,486.20 L398.50,486.20 L399.00,486.21 L399.50,486.21 L400.00,486.22 L400.50,486.22 L401.00,486.22 L401.50,486.23 L402.00,486.23 L402.50,486.24 L403.00,486.24 L403.50,486.24 L404.00,486.25 L404.50,486.25 L405.00,486.26 L405.50,486.26 L406.00,486.26 L406.50,486.27 L407.00,486.27 L407.50,486.28 L408.00,486.28 L408.50,486.28 L409.00,486.29 L409.50,486.29 L410.00,486.29 L410.50,486.30 L411.00,486.30 L411.50,486.30 L412.00,486.31 L412.50,486.31 L413.00,486.31 L413.50,486.32 L414.00,486.32 L414.50,486.32 L415.00,486.33 L415.50,486.33 L416.00,486.33 L416.50,486.34 L417.00,486.34 L417.50,486.34 L418.00,486.35 L418.50,486.35 L419.00,486.35 L419.50,486.36 L420.00,486.36 L420.50,486.36 L421.00,486.37 L421.50,486.37 L422.00,486.37 L422.50,486.38 L423.00,486.38 L423.50,486.38 L424.00,486.38 L424.50,486.39 L425.00,486.39 L425.50,486.39 L426.00,486.40 L426.50,486.40 L427.00,486.40 L427.50,486.41 L428.00,486.41 L428.50,486.41 L429.00,486.41 L429.50,486.42 L430.00,486.42 L430.50,486.42 L431.00,486.42 L431.50,486.43 L432.00,486.43 L432.50,486.43 L433.00,486.44 L433.50,486.44 L434.00,486.44 L434.50,486.44 L435.00,486.45 L435.50,486.45 L436.00,486.45 L436.50,486.45 L437.00,486.46 L437.50,486.46 L438.00,486.46 L438.50,486.46 L439.00,486.47 L439.50,486.47 L440.00,486.47 L440.50,486.47 L441.00,486.47 L441.50,486.48 L442.00,486.48 L442.50,486.48 L443.00,486.48 L443.50,486.49 L444.00,486.49 L444.50,486.49 L445.00,486.49 L445.50,486.50 L446.00,486.50 L446.50,486.50 L447.00,486.50 L447.50,486.50 L448.00,486.51 L448.50,486.51 L449.00,486.51 L449.50,486.51 L450.00,486.51 L450.50,486.52 L451.00,486.52 L451.50,486.52 L452.00,486.52 L452.50,486.53 L453.00,486.53 L453.50,486.53 L454.00,486.53 L454.50,486.53 L455.00,486.54 L455.50,486.54 L456.00,486.54 L456.50,486.54 L457.00,486.54 L457.50,486.55 L458.00,486.55 L458.50,486.55 L459.00,486.55 L459.50,486.55 L460.00,486.55 L460.50,486.56 L461.00,486.56 L461.50,486.56 L462.00,486.56 L462.50,486.56 L463.00,486.57 L463.50,486.57 L464.00,486.57 L464.50,486.57 L465.00,486.57 L465.50,486.57 L466.00,486.58 L466.50,486.58 L467.00,486.58 L467.50,486.58 L468.00,486.58 L468.50,486.58 L469.00,486.59 L469.50,486.59 L470.00,486.59 L470.50,486.59 L471.00,486.59 L471.50,486.59 L472.00,486.60 L472.50,486.60 L473.00,486.60 L473.50,486.60 L474.00,486.60 L474.50,486.60 L475.00,486.61 L475.50,486.61 L476.00,486.61 L476.50,486.61 L477.00,486.61 L477.50,486.61 L478.00,486.61 L478.50,486.62 L479.00,486.62 L479.50,486.62 L480.00,486.62 L480.50,486.62 L481.00,486.62 L481.50,486.63 L482.00,486.63 L482.50,486.63 L483.00,486.63 L483.50,486.63 L484.00,486.63 L484.50,486.63 L485.00,486.64 L485.50,486.64 L486.00,486.64 L486.50,486.64 L487.00,486.64 L487.50,486.64 L488.00,486.64 L488.50,486.64 L489.00,486.65 L489.50,486.65 L490.00,486.65 L490.50,486.65 L491.00,486.65 L491.50,486.65 L492.00,486.65 L492.50,486.66 L493.00,486.66 L493.50,486.66 L494.00,486.66 L494.50,486.66 L495.00,486.66 L495.50,486.66 L496.00,486.66 L496.50,486.67 L497.00,486.67 L497.50,486.67 L498.00,486.67 L498.50,486.67 L499.00,486.67 L499.50,486.67 L500.00,486.67 L500.50,486.68 L501.00,486.68 L501.50,486.68 L502.00,486.68 L502.50,486.68 L503.00,486.68 L503.50,486.68 L504.00,486.68 L504.50,486.68 L505.00,486.69 L505.50,486.69 L506.00,486.69 L506.50,486.69 L507.00,486.69 L507.50,486.69 L508.00,486.69 L508.50,486.69 L509.00,486.69 L509.50,486.70 L510.00,486.70 L510.50,486.70 L511.00,486.70 L511.50,486.70 L512.00,486.70 L512.50,486.70 L513.00,486.70 L513.50,486.70 L514.00,486.71 L514.50,486.71 L515.00,486.71 L515.50,486.71 L516.00,486.71 L516.50,486.71" stroke="#63ad3b" stroke-width="3"/>
<!-- panel B -->
<line x1="293" y1="653.7" x2="516.5" y2="653.7" stroke="#63ad3b" stroke-width="3" stroke-dasharray="5.2 5.3"/>
<path d="M316.00,651.51 L316.50,651.42 L317.00,651.33 L317.50,651.24 L318.00,651.15 L318.50,651.05 L319.00,650.95 L319.50,650.85 L320.00,650.74 L320.50,650.63 L321.00,650.52 L321.50,650.40 L322.00,650.28 L322.50,650.16 L323.00,650.03 L323.50,649.90 L324.00,649.76 L324.50,649.62 L325.00,649.47 L325.50,649.32 L326.00,649.17 L326.50,649.01 L327.00,648.84 L327.50,648.67 L328.00,648.50 L328.50,648.32 L329.00,648.13 L329.50,647.94 L330.00,647.75 L330.50,647.55 L331.00,647.34 L331.50,647.13 L332.00,646.92 L332.50,646.69 L333.00,646.46 L333.50,646.23 L334.00,645.99 L334.50,645.74 L335.00,645.49 L335.50,645.23 L336.00,644.96 L336.50,644.69 L337.00,644.41 L337.50,644.12 L338.00,643.83 L338.50,643.53 L339.00,643.22 L339.50,642.91 L340.00,642.59 L340.50,642.26 L341.00,641.93 L341.50,641.58 L342.00,641.23 L342.50,640.88 L343.00,640.51 L343.50,640.14 L344.00,639.76 L344.50,639.38 L345.00,638.98 L345.50,638.58 L346.00,638.17 L346.50,637.75 L347.00,637.33 L347.50,636.90 L348.00,636.46 L348.50,636.01 L349.00,635.56 L349.50,635.09 L350.00,634.62 L350.50,634.15 L351.00,633.66 L351.50,633.17 L352.00,632.67 L352.50,632.16 L353.00,631.65 L353.50,631.13 L354.00,630.60 L354.50,630.06 L355.00,629.52 L355.50,628.97 L356.00,628.42 L356.50,627.86 L357.00,627.29 L357.50,626.71 L358.00,626.13 L358.50,625.54 L359.00,624.95 L359.50,624.35 L360.00,623.75 L360.50,623.14 L361.00,622.52 L361.50,621.91 L362.00,621.28 L362.50,620.65 L363.00,620.02 L363.50,619.38 L364.00,618.74 L364.50,618.10 L365.00,617.45 L365.50,616.80 L366.00,616.14 L366.50,615.49 L367.00,614.83 L367.50,614.17 L368.00,613.51 L368.50,612.84 L369.00,612.18 L369.50,611.51 L370.00,610.85 L370.50,610.18 L371.00,609.51 L371.50,608.85 L372.00,608.18 L372.50,607.52 L373.00,606.86 L373.50,606.20 L374.00,605.54 L374.50,604.89 L375.00,604.23 L375.50,603.59 L376.00,602.94 L376.50,602.30 L377.00,601.66 L377.50,601.03 L378.00,600.41 L378.50,599.79 L379.00,599.17 L379.50,598.56 L380.00,597.96 L380.50,597.37 L381.00,596.78 L381.50,596.20 L382.00,595.63 L382.50,595.07 L383.00,594.52 L383.50,593.97 L384.00,593.44 L384.50,592.92 L385.00,592.40 L385.50,591.90 L386.00,591.41 L386.50,590.93 L387.00,590.46 L387.50,590.00 L388.00,589.56 L388.50,589.13 L389.00,588.71 L389.50,588.31 L390.00,587.92 L390.50,587.54 L391.00,587.18 L391.50,586.83 L392.00,586.49 L392.50,586.18 L393.00,585.87 L393.50,585.58 L394.00,585.31 L394.50,585.05 L395.00,584.81 L395.50,584.59 L396.00,584.38 L396.50,584.19 L397.00,584.01 L397.50,583.86 L398.00,583.71 L398.50,583.59 L399.00,583.48 L399.50,583.39 L400.00,583.32 L400.50,583.26 L401.00,583.23 L401.50,583.20 L402.00,583.20 L402.50,583.21 L403.00,583.23 L403.50,583.25 L404.00,583.29 L404.50,583.34 L405.00,583.40 L405.50,583.46 L406.00,583.54 L406.50,583.63 L407.00,583.72 L407.50,583.83 L408.00,583.94 L408.50,584.07 L409.00,584.20 L409.50,584.35 L410.00,584.50 L410.50,584.66 L411.00,584.83 L411.50,585.01 L412.00,585.20 L412.50,585.40 L413.00,585.60 L413.50,585.82 L414.00,586.04 L414.50,586.27 L415.00,586.51 L415.50,586.75 L416.00,587.00 L416.50,587.27 L417.00,587.53 L417.50,587.81 L418.00,588.09 L418.50,588.38 L419.00,588.68 L419.50,588.98 L420.00,589.29 L420.50,589.60 L421.00,589.93 L421.50,590.25 L422.00,590.59 L422.50,590.92 L423.00,591.27 L423.50,591.62 L424.00,591.97 L424.50,592.33 L425.00,592.69 L425.50,593.06 L426.00,593.43 L426.50,593.81 L427.00,594.19 L427.50,594.57 L428.00,594.96 L428.50,595.35 L429.00,595.74 L429.50,596.14 L430.00,596.54 L430.50,596.94 L431.00,597.34 L431.50,597.75 L432.00,598.16 L432.50,598.57 L433.00,598.98 L433.50,599.40 L434.00,599.81 L434.50,600.23 L435.00,600.65 L435.50,601.07 L436.00,601.49 L436.50,601.91 L437.00,602.33 L437.50,602.75 L438.00,603.18 L438.50,603.60 L439.00,604.02 L439.50,604.45 L440.00,604.87 L440.50,605.29 L441.00,605.71 L441.50,606.14 L442.00,606.56 L442.50,606.98 L443.00,607.40 L443.50,607.82 L444.00,608.23 L444.50,608.65 L445.00,609.06 L445.50,609.48 L446.00,609.89 L446.50,610.30 L447.00,610.71 L447.50,611.12 L448.00,611.53 L448.50,611.93 L449.00,612.33 L449.50,612.73 L450.00,613.13 L450.50,613.53 L451.00,613.92 L451.50,614.31 L452.00,614.70 L452.50,615.09 L453.00,615.48 L453.50,615.86 L454.00,616.24 L454.50,616.62 L455.00,616.99 L455.50,617.37 L456.00,617.74 L456.50,618.10 L457.00,618.47 L457.50,618.83 L458.00,619.19 L458.50,619.55 L459.00,619.90 L459.50,620.25 L460.00,620.60 L460.50,620.95 L461.00,621.29 L461.50,621.63 L462.00,621.97 L462.50,622.30 L463.00,622.64 L463.50,622.96 L464.00,623.29 L464.50,623.61 L465.00,623.93 L465.50,624.25 L466.00,624.57 L466.50,624.88 L467.00,625.18 L467.50,625.49 L468.00,625.79 L468.50,626.09 L469.00,626.39 L469.50,626.68 L470.00,626.97 L470.50,627.26 L471.00,627.55 L471.50,627.83 L472.00,628.11 L472.50,628.39 L473.00,628.66 L473.50,628.93 L474.00,629.20 L474.50,629.47 L475.00,629.73 L475.50,629.99 L476.00,630.25 L476.50,630.50 L477.00,630.75 L477.50,631.00 L478.00,631.25 L478.50,631.49 L479.00,631.73 L479.50,631.97 L480.00,632.21 L480.50,632.44 L481.00,632.67 L481.50,632.90 L482.00,633.13 L482.50,633.35 L483.00,633.57 L483.50,633.79 L484.00,634.01 L484.50,634.22 L485.00,634.43 L485.50,634.64 L486.00,634.85 L486.50,635.05 L487.00,635.25 L487.50,635.45 L488.00,635.65 L488.50,635.84 L489.00,636.04 L489.50,636.23 L490.00,636.41 L490.50,636.60 L491.00,636.78 L491.50,636.97 L492.00,637.15 L492.50,637.32 L493.00,637.50 L493.50,637.67 L494.00,637.84 L494.50,638.01 L495.00,638.18 L495.50,638.35 L496.00,638.51 L496.50,638.67 L497.00,638.83 L497.50,638.99 L498.00,639.15 L498.50,639.30 L499.00,639.45 L499.50,639.60 L500.00,639.75 L500.50,639.90 L501.00,640.04 L501.50,640.19 L502.00,640.33 L502.50,640.47 L503.00,640.61 L503.50,640.75 L504.00,640.88 L504.50,641.01 L505.00,641.15 L505.50,641.28 L506.00,641.41 L506.50,641.53 L507.00,641.66 L507.50,641.79 L508.00,641.91 L508.50,642.03 L509.00,642.15 L509.50,642.27 L510.00,642.39 L510.50,642.50 L511.00,642.62 L511.50,642.73 L512.00,642.84 L512.50,642.95 L513.00,643.06 L513.50,643.17 L514.00,643.28 L514.50,643.38 L515.00,643.49 L515.50,643.59 L516.00,643.69 L516.50,643.79" stroke="#ea8f31" stroke-width="3" stroke-dasharray="7 5"/>
<path d="M83.50,653.00 L84.00,653.00 L84.50,653.00 L85.00,653.00 L85.50,653.00 L86.00,653.00 L86.50,653.00 L87.00,653.00 L87.50,653.00 L88.00,653.00 L88.50,653.00 L89.00,653.00 L89.50,653.00 L90.00,653.00 L90.50,653.00 L91.00,653.00 L91.50,653.00 L92.00,653.00 L92.50,653.00 L93.00,653.00 L93.50,653.00 L94.00,653.00 L94.50,653.00 L95.00,653.00 L95.50,653.00 L96.00,653.00 L96.50,653.00 L97.00,653.00 L97.50,653.00 L98.00,653.00 L98.50,653.00 L99.00,653.00 L99.50,653.00 L100.00,653.00 L100.50,653.00 L101.00,653.00 L101.50,653.00 L102.00,653.00 L102.50,653.00 L103.00,653.00 L103.50,653.00 L104.00,653.00 L104.50,653.00 L105.00,653.00 L105.50,653.00 L106.00,653.00 L106.50,653.00 L107.00,653.00 L107.50,653.00 L108.00,653.00 L108.50,653.00 L109.00,653.00 L109.50,653.00 L110.00,653.00 L110.50,653.00 L111.00,653.00 L111.50,653.00 L112.00,653.00 L112.50,653.00 L113.00,653.00 L113.50,653.00 L114.00,653.00 L114.50,653.00 L115.00,653.00 L115.50,653.00 L116.00,653.00 L116.50,653.00 L117.00,653.00 L117.50,653.00 L118.00,653.00 L118.50,653.00 L119.00,653.00 L119.50,653.00 L120.00,653.00 L120.50,653.00 L121.00,653.00 L121.50,653.00 L122.00,653.00 L122.50,653.00 L123.00,653.00 L123.50,653.00 L124.00,653.00 L124.50,653.00 L125.00,653.00 L125.50,653.00 L126.00,653.00 L126.50,653.00 L127.00,653.00 L127.50,653.00 L128.00,653.00 L128.50,653.00 L129.00,653.00 L129.50,653.00 L130.00,653.00 L130.50,653.00 L131.00,653.00 L131.50,653.00 L132.00,653.00 L132.50,653.00 L133.00,653.00 L133.50,653.00 L134.00,653.00 L134.50,653.00 L135.00,653.00 L135.50,653.00 L136.00,653.00 L136.50,653.00 L137.00,653.00 L137.50,653.00 L138.00,653.00 L138.50,653.00 L139.00,653.00 L139.50,653.00 L140.00,653.00 L140.50,653.00 L141.00,653.00 L141.50,653.00 L142.00,653.00 L142.50,653.00 L143.00,653.00 L143.50,653.00 L144.00,653.00 L144.50,653.00 L145.00,653.00 L145.50,653.00 L146.00,653.00 L146.50,653.00 L147.00,653.00 L147.50,653.00 L148.00,653.00 L148.50,653.00 L149.00,653.00 L149.50,653.00 L150.00,653.00 L150.50,653.00 L151.00,653.00 L151.50,653.00 L152.00,653.00 L152.50,653.00 L153.00,653.00 L153.50,653.00 L154.00,653.00 L154.50,653.00 L155.00,653.00 L155.50,653.00 L156.00,653.00 L156.50,653.00 L157.00,653.00 L157.50,653.00 L158.00,653.00 L158.50,653.00 L159.00,653.00 L159.50,653.00 L160.00,653.00 L160.50,653.00 L161.00,653.00 L161.50,653.00 L162.00,653.00 L162.50,653.00 L163.00,653.00 L163.50,653.00 L164.00,653.00 L164.50,653.00 L165.00,653.00 L165.50,653.00 L166.00,653.00 L166.50,653.00 L167.00,653.00 L167.50,653.00 L168.00,653.00 L168.50,653.00 L169.00,653.00 L169.50,653.00 L170.00,653.00 L170.50,653.00 L171.00,653.00 L171.50,653.00 L172.00,653.00 L172.50,653.00 L173.00,653.00 L173.50,653.00 L174.00,653.00 L174.50,653.00 L175.00,653.00 L175.50,653.00 L176.00,653.00 L176.50,653.00 L177.00,653.00 L177.50,653.00 L178.00,653.00 L178.50,653.00 L179.00,653.00 L179.50,653.00 L180.00,653.00 L180.50,653.00 L181.00,653.00 L181.50,653.00 L182.00,653.00 L182.50,653.00 L183.00,653.00 L183.50,653.00 L184.00,653.00 L184.50,653.00 L185.00,653.00 L185.50,653.00 L186.00,653.00 L186.50,653.00 L187.00,653.00 L187.50,653.00 L188.00,653.00 L188.50,653.00 L189.00,653.00 L189.50,653.00 L190.00,653.00 L190.50,653.00 L191.00,653.00 L191.50,653.00 L192.00,653.00 L192.50,653.00 L193.00,653.00 L193.50,653.00 L194.00,653.00 L194.50,653.00 L195.00,653.00 L195.50,653.00 L196.00,653.00 L196.50,653.00 L197.00,653.00 L197.50,653.00 L198.00,653.00 L198.50,653.00 L199.00,653.00 L199.50,653.00 L200.00,653.00 L200.50,653.00 L201.00,653.00 L201.50,653.00 L202.00,653.00 L202.50,653.00 L203.00,653.00 L203.50,653.00 L204.00,653.00 L204.50,653.00 L205.00,653.00 L205.50,653.00 L206.00,653.00 L206.50,653.00 L207.00,653.00 L207.50,653.00 L208.00,653.00 L208.50,653.00 L209.00,653.00 L209.50,653.00 L210.00,653.00 L210.50,653.00 L211.00,653.00 L211.50,653.00 L212.00,653.00 L212.50,653.00 L213.00,653.00 L213.50,653.00 L214.00,653.00 L214.50,653.00 L215.00,653.00 L215.50,653.00 L216.00,653.00 L216.50,653.00 L217.00,653.00 L217.50,653.00 L218.00,653.00 L218.50,653.00 L219.00,653.00 L219.50,653.00 L220.00,652.99 L220.50,652.99 L221.00,652.99 L221.50,652.99 L222.00,652.99 L222.50,652.99 L223.00,652.99 L223.50,652.99 L224.00,652.99 L224.50,652.99 L225.00,652.99 L225.50,652.99 L226.00,652.99 L226.50,652.99 L227.00,652.99 L227.50,652.99 L228.00,652.99 L228.50,652.99 L229.00,652.99 L229.50,652.99 L230.00,652.99 L230.50,652.99 L231.00,652.99 L231.50,652.99 L232.00,652.99 L232.50,652.99 L233.00,652.99 L233.50,652.99 L234.00,652.99 L234.50,652.98 L235.00,652.98 L235.50,652.98 L236.00,652.98 L236.50,652.98 L237.00,652.98 L237.50,652.98 L238.00,652.98 L238.50,652.98 L239.00,652.98 L239.50,652.98 L240.00,652.98 L240.50,652.98 L241.00,652.97 L241.50,652.97 L242.00,652.97 L242.50,652.97 L243.00,652.97 L243.50,652.97 L244.00,652.97 L244.50,652.97 L245.00,652.97 L245.50,652.96 L246.00,652.96 L246.50,652.96 L247.00,652.96 L247.50,652.96 L248.00,652.96 L248.50,652.96 L249.00,652.95 L249.50,652.95 L250.00,652.95 L250.50,652.95 L251.00,652.95 L251.50,652.94 L252.00,652.94 L252.50,652.94 L253.00,652.94 L253.50,652.93 L254.00,652.93 L254.50,652.93 L255.00,652.93 L255.50,652.92 L256.00,652.92 L256.50,652.92 L257.00,652.91 L257.50,652.91 L258.00,652.91 L258.50,652.90 L259.00,652.90 L259.50,652.90 L260.00,652.89 L260.50,652.89 L261.00,652.88 L261.50,652.88 L262.00,652.87 L262.50,652.87 L263.00,652.86 L263.50,652.86 L264.00,652.85 L264.50,652.85 L265.00,652.84 L265.50,652.84 L266.00,652.83 L266.50,652.82 L267.00,652.82 L267.50,652.81 L268.00,652.80 L268.50,652.79 L269.00,652.79 L269.50,652.78 L270.00,652.77 L270.50,652.76 L271.00,652.75 L271.50,652.74 L272.00,652.73 L272.50,652.72 L273.00,652.71 L273.50,652.70 L274.00,652.69 L274.50,652.67 L275.00,652.66 L275.50,652.65 L276.00,652.64 L276.50,652.62 L277.00,652.61 L277.50,652.59 L278.00,652.58 L278.50,652.56 L279.00,652.54 L279.50,652.53 L280.00,652.51 L280.50,652.49 L281.00,652.47 L281.50,652.45 L282.00,652.43 L282.50,652.41 L283.00,652.39 L283.50,652.36 L284.00,652.34 L284.50,652.31 L285.00,652.29 L285.50,652.26 L286.00,652.23 L286.50,652.20 L287.00,652.17 L287.50,652.14 L288.00,652.11 L288.50,652.08 L289.00,652.04 L289.50,652.01 L290.00,651.97 L290.50,651.93 L291.00,651.89 L291.50,651.85 L292.00,651.81 L292.50,651.77 L293.00,651.72 L293.50,651.67 L294.00,651.62 L294.50,651.57 L295.00,651.52 L295.50,651.47 L296.00,651.41 L296.50,651.35 L297.00,651.29 L297.50,651.23 L298.00,651.17 L298.50,651.10 L299.00,651.03 L299.50,650.96 L300.00,650.89 L300.50,650.81 L301.00,650.73 L301.50,650.65 L302.00,650.57 L302.50,650.48 L303.00,650.39 L303.50,650.30 L304.00,650.21 L304.50,650.11 L305.00,650.00 L305.50,649.90 L306.00,649.79 L306.50,649.68 L307.00,649.56 L307.50,649.44 L308.00,649.32 L308.50,649.19 L309.00,649.06 L309.50,648.92 L310.00,648.78 L310.50,648.64 L311.00,648.49 L311.50,648.33 L312.00,648.17 L312.50,648.01 L313.00,647.84 L313.50,647.67 L314.00,647.49 L314.50,647.30 L315.00,647.11 L315.50,646.91 L316.00,646.71 L316.50,646.50 L317.00,646.29 L317.50,646.06 L318.00,645.84 L318.50,645.60 L319.00,645.36 L319.50,645.11 L320.00,644.85 L320.50,644.59 L321.00,644.32 L321.50,644.04 L322.00,643.75 L322.50,643.46 L323.00,643.15 L323.50,642.84 L324.00,642.52 L324.50,642.19 L325.00,641.85 L325.50,641.51 L326.00,641.15 L326.50,640.78 L327.00,640.41 L327.50,640.02 L328.00,639.62 L328.50,639.21 L329.00,638.80 L329.50,638.37 L330.00,637.93 L330.50,637.48 L331.00,637.01 L331.50,636.54 L332.00,636.05 L332.50,635.55 L333.00,635.04 L333.50,634.52 L334.00,633.98 L334.50,633.44 L335.00,632.88 L335.50,632.30 L336.00,631.71 L336.50,631.11 L337.00,630.50 L337.50,629.87 L338.00,629.22 L338.50,628.57 L339.00,627.89 L339.50,627.21 L340.00,626.50 L340.50,625.79 L341.00,625.06 L341.50,624.31 L342.00,623.55 L342.50,622.77 L343.00,621.98 L343.50,621.17 L344.00,620.34 L344.50,619.50 L345.00,618.64 L345.50,617.77 L346.00,616.88 L346.50,615.97 L347.00,615.05 L347.50,614.11 L348.00,613.16 L348.50,612.18 L349.00,611.20 L349.50,610.19 L350.00,609.17 L350.50,608.13 L351.00,607.08 L351.50,606.00 L352.00,604.92 L352.50,603.81 L353.00,602.69 L353.50,601.56 L354.00,600.40 L354.50,599.23 L355.00,598.05 L355.50,596.85 L356.00,595.63 L356.50,594.40 L357.00,593.16 L357.50,591.90 L358.00,590.62 L358.50,589.33 L359.00,588.03 L359.50,586.71 L360.00,585.38 L360.50,584.03 L361.00,582.67 L361.50,581.30 L362.00,579.92 L362.50,578.53 L363.00,577.12 L363.50,575.71 L364.00,574.28 L364.50,572.84 L365.00,571.40 L365.50,569.94 L366.00,568.48 L366.50,567.01 L367.00,565.53 L367.50,564.04 L368.00,562.55 L368.50,561.05 L369.00,559.55 L369.50,558.05 L370.00,556.54 L370.50,555.02 L371.00,553.51 L371.50,551.99 L372.00,550.47 L372.50,548.96 L373.00,547.44 L373.50,545.92 L374.00,544.41 L374.50,542.90 L375.00,541.40 L375.50,539.89 L376.00,538.40 L376.50,536.91 L377.00,535.43 L377.50,533.95 L378.00,532.49 L378.50,531.03 L379.00,529.59 L379.50,528.16 L380.00,526.74 L380.50,525.33 L381.00,523.93 L381.50,522.56 L382.00,521.19 L382.50,519.85 L383.00,518.52 L383.50,517.21 L384.00,515.92 L384.50,514.66 L385.00,513.41 L385.50,512.18 L386.00,510.98 L386.50,509.80 L387.00,508.65 L387.50,507.52 L388.00,506.41 L388.50,505.34 L389.00,504.29 L389.50,503.27 L390.00,502.28 L390.50,501.32 L391.00,500.39 L391.50,499.50 L392.00,498.63 L392.50,497.80 L393.00,497.00 L393.50,496.24 L394.00,495.51 L394.50,494.81 L395.00,494.15 L395.50,493.53 L396.00,492.94 L396.50,492.39 L397.00,491.88 L397.50,491.41 L398.00,490.98 L398.50,490.58 L399.00,490.22 L399.50,489.91 L400.00,489.63 L400.50,489.39 L401.00,489.19 L401.50,489.03 L402.00,488.92 L402.50,488.84 L403.00,488.80 L403.50,488.81 L404.00,488.85 L404.50,488.92 L405.00,489.04 L405.50,489.19 L406.00,489.37 L406.50,489.59 L407.00,489.85 L407.50,490.14 L408.00,490.46 L408.50,490.82 L409.00,491.22 L409.50,491.65 L410.00,492.11 L410.50,492.60 L411.00,493.12 L411.50,493.68 L412.00,494.26 L412.50,494.88 L413.00,495.52 L413.50,496.19 L414.00,496.89 L414.50,497.62 L415.00,498.37 L415.50,499.15 L416.00,499.95 L416.50,500.77 L417.00,501.62 L417.50,502.49 L418.00,503.37 L418.50,504.28 L419.00,505.21 L419.50,506.15 L420.00,507.11 L420.50,508.09 L421.00,509.08 L421.50,510.09 L422.00,511.11 L422.50,512.14 L423.00,513.19 L423.50,514.25 L424.00,515.31 L424.50,516.39 L425.00,517.47 L425.50,518.56 L426.00,519.66 L426.50,520.76 L427.00,521.87 L427.50,522.99 L428.00,524.10 L428.50,525.23 L429.00,526.35 L429.50,527.48 L430.00,528.60 L430.50,529.73 L431.00,530.86 L431.50,531.99 L432.00,533.12 L432.50,534.24 L433.00,535.37 L433.50,536.49 L434.00,537.61 L434.50,538.72 L435.00,539.83 L435.50,540.94 L436.00,542.04 L436.50,543.14 L437.00,544.23 L437.50,545.32 L438.00,546.40 L438.50,547.48 L439.00,548.55 L439.50,549.61 L440.00,550.67 L440.50,551.71 L441.00,552.75 L441.50,553.79 L442.00,554.81 L442.50,555.83 L443.00,556.84 L443.50,557.84 L444.00,558.84 L444.50,559.82 L445.00,560.80 L445.50,561.77 L446.00,562.72 L446.50,563.67 L447.00,564.62 L447.50,565.55 L448.00,566.47 L448.50,567.38 L449.00,568.29 L449.50,569.18 L450.00,570.07 L450.50,570.95 L451.00,571.82 L451.50,572.68 L452.00,573.53 L452.50,574.37 L453.00,575.20 L453.50,576.02 L454.00,576.83 L454.50,577.64 L455.00,578.43 L455.50,579.22 L456.00,580.00 L456.50,580.77 L457.00,581.53 L457.50,582.28 L458.00,583.02 L458.50,583.75 L459.00,584.48 L459.50,585.19 L460.00,585.90 L460.50,586.60 L461.00,587.29 L461.50,587.97 L462.00,588.65 L462.50,589.32 L463.00,589.97 L463.50,590.62 L464.00,591.27 L464.50,591.90 L465.00,592.53 L465.50,593.15 L466.00,593.76 L466.50,594.36 L467.00,594.96 L467.50,595.55 L468.00,596.13 L468.50,596.71 L469.00,597.27 L469.50,597.83 L470.00,598.39 L470.50,598.93 L471.00,599.47 L471.50,600.01 L472.00,600.53 L472.50,601.05 L473.00,601.57 L473.50,602.08 L474.00,602.58 L474.50,603.07 L475.00,603.56 L475.50,604.04 L476.00,604.52 L476.50,604.99 L477.00,605.46 L477.50,605.91 L478.00,606.37 L478.50,606.82 L479.00,607.26 L479.50,607.69 L480.00,608.13 L480.50,608.55 L481.00,608.97 L481.50,609.39 L482.00,609.80 L482.50,610.20 L483.00,610.60 L483.50,611.00 L484.00,611.39 L484.50,611.78 L485.00,612.16 L485.50,612.53 L486.00,612.91 L486.50,613.27 L487.00,613.64 L487.50,614.00 L488.00,614.35 L488.50,614.70 L489.00,615.05 L489.50,615.39 L490.00,615.72 L490.50,616.06 L491.00,616.39 L491.50,616.71 L492.00,617.04 L492.50,617.35 L493.00,617.67 L493.50,617.98 L494.00,618.28 L494.50,618.59 L495.00,618.89 L495.50,619.18 L496.00,619.47 L496.50,619.76 L497.00,620.05 L497.50,620.33 L498.00,620.61 L498.50,620.89 L499.00,621.16 L499.50,621.43 L500.00,621.69 L500.50,621.96 L501.00,622.22 L501.50,622.48 L502.00,622.73 L502.50,622.98 L503.00,623.23 L503.50,623.47 L504.00,623.72 L504.50,623.96 L505.00,624.20 L505.50,624.43 L506.00,624.66 L506.50,624.89 L507.00,625.12 L507.50,625.34 L508.00,625.56 L508.50,625.78 L509.00,626.00 L509.50,626.22 L510.00,626.43 L510.50,626.64 L511.00,626.85 L511.50,627.05 L512.00,627.25 L512.50,627.46 L513.00,627.65 L513.50,627.85 L514.00,628.04 L514.50,628.24 L515.00,628.43 L515.50,628.62 L516.00,628.80 L516.50,628.99" stroke="#2d6daf" stroke-width="3"/>
<!-- legend -->
<line x1="302" y1="67.2" x2="340" y2="67.2" stroke="#2d6daf" stroke-width="3"/>
<line x1="302" y1="101.1" x2="340" y2="101.1" stroke="#d66a2b" stroke-width="3"/>
<line x1="302" y1="134.8" x2="340" y2="134.8" stroke="#63ad3b" stroke-width="3"/>
<line x1="302" y1="169.7" x2="340" y2="169.7" stroke="#6b5aa6" stroke-width="3"/>
<line x1="302" y1="203.9" x2="340" y2="203.9" stroke="#217ca3" stroke-width="2.7"/>
<!-- arrow -->
<path d="M434.4,405.3 C414.01,417.24 409.15,437.37 404.3,467" stroke="#111" stroke-width="1.8"/>
</g>
<path d="M400.3,465.8 L408.9,466.6 L403.7,474.2 Z" fill="#111"/>
<g font-size="24">
<text class="leg" x="350" y="76">Arginine</text>
<text class="leg" x="350" y="110">Citrulline</text>
<text class="leg" x="350" y="144">Ornithine</text>
<text class="leg" x="350" y="178">Urea</text>
<text class="leg" x="350" y="212.5">ADMA</text>
<text x="430.5" y="393.4" text-anchor="middle">ADMA</text>
<text x="224" y="553.8" text-anchor="middle" font-style="italic">Arginine</text>
<text x="224" y="585.5" text-anchor="middle">(MRM)</text>
<text x="83" y="721.3" text-anchor="middle">0</text>
<text x="186.3" y="721.3" text-anchor="middle">2</text>
<text x="290.5" y="721.3" text-anchor="middle">3</text>
<text x="403" y="721.3" text-anchor="middle">4</text>
<text x="517.2" y="721.3" text-anchor="middle">6</text>
<text x="302" y="756.3" text-anchor="middle">Retention time (min)</text>
<text x="52" y="828.3">Representative MRM chromatograms for</text>
<text x="47" y="62.3" font-weight="bold" font-size="25.5">A</text>
<text x="48.5" y="498.5" font-weight="bold" font-size="25.5">B</text>
<text transform="translate(63.7,302.5) rotate(-90)" letter-spacing="0.6">Intensity (a.u.</text>
<text transform="translate(63.7,696.5) rotate(-90)" letter-spacing="0.5">Intensity /a.u.</text>
</g>
</svg>
</body></html>
